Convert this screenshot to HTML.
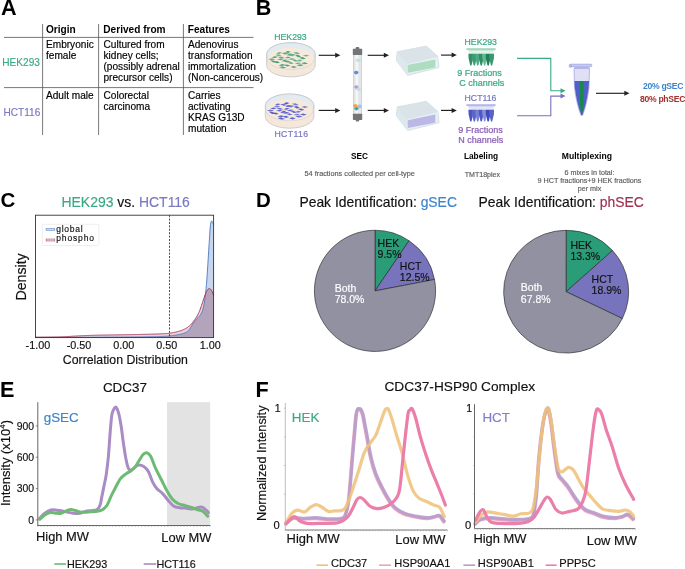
<!DOCTYPE html>
<html><head><meta charset="utf-8"><style>
html,body{margin:0;padding:0;background:#fff;}
body{width:685px;height:569px;overflow:hidden;}
svg{display:block;will-change:transform;}
</style></head><body>
<svg width="685" height="569" viewBox="0 0 685 569" font-family="'Liberation Sans', sans-serif">
<rect width="685" height="569" fill="#fff"/>
<text x="0.9" y="15.2" font-size="21.6" fill="#000" font-weight="bold">A</text>
<g stroke="#555" stroke-width="0.8">
<line x1="42.6" y1="24" x2="42.6" y2="135"/>
<line x1="98.6" y1="24" x2="98.6" y2="135"/>
<line x1="183.4" y1="24" x2="183.4" y2="135"/>
<line x1="4" y1="37.4" x2="253.5" y2="37.4"/>
<line x1="4" y1="87.6" x2="253.5" y2="87.6"/>
</g>
<text x="46" y="33.3" font-size="10.1" fill="#000" font-weight="bold">Origin</text>
<text x="103.3" y="33.3" font-size="10.1" fill="#000" font-weight="bold">Derived from</text>
<text x="187.8" y="33.3" font-size="10.1" fill="#000" font-weight="bold">Features</text>
<text x="2.3" y="66.3" font-size="10.1" fill="#3aa985" stroke="#3aa985" stroke-width="0.16">HEK293</text>
<text x="3.5" y="115.9" font-size="10.1" fill="#7b78c4" stroke="#7b78c4" stroke-width="0.16">HCT116</text>
<text x="46" y="48.1" font-size="10.1" fill="#000" stroke="#000" stroke-width="0.16">Embryonic</text>
<text x="46" y="59.2" font-size="10.1" fill="#000" stroke="#000" stroke-width="0.16">female</text>
<text x="103.5" y="48.1" font-size="10.1" fill="#000" stroke="#000" stroke-width="0.16">Cultured from</text>
<text x="103.5" y="59.2" font-size="10.1" fill="#000" stroke="#000" stroke-width="0.16">kidney cells;</text>
<text x="103.5" y="70.3" font-size="10.1" fill="#000" stroke="#000" stroke-width="0.16">(possibly adrenal</text>
<text x="103.5" y="81.4" font-size="10.1" fill="#000" stroke="#000" stroke-width="0.16">precursor cells)</text>
<text x="188" y="48.1" font-size="10.1" fill="#000" stroke="#000" stroke-width="0.16">Adenovirus</text>
<text x="188" y="59.2" font-size="10.1" fill="#000" stroke="#000" stroke-width="0.16">transformation</text>
<text x="188" y="70.3" font-size="10.1" fill="#000" stroke="#000" stroke-width="0.16">immortalization</text>
<text x="188" y="81.4" font-size="10.1" fill="#000" stroke="#000" stroke-width="0.16">(Non-cancerous)</text>
<text x="46" y="98.8" font-size="10.1" fill="#000" stroke="#000" stroke-width="0.16">Adult male</text>
<text x="103.5" y="98.8" font-size="10.1" fill="#000" stroke="#000" stroke-width="0.16">Colorectal</text>
<text x="103.5" y="109.8" font-size="10.1" fill="#000" stroke="#000" stroke-width="0.16">carcinoma</text>
<text x="188" y="98.8" font-size="10.1" fill="#000" stroke="#000" stroke-width="0.16">Carries</text>
<text x="188" y="109.8" font-size="10.1" fill="#000" stroke="#000" stroke-width="0.16">activating</text>
<text x="188" y="120.8" font-size="10.1" fill="#000" stroke="#000" stroke-width="0.16">KRAS G13D</text>
<text x="188" y="131.8" font-size="10.1" fill="#000" stroke="#000" stroke-width="0.16">mutation</text>
<text x="255.7" y="15.3" font-size="21.6" fill="#000" font-weight="bold">B</text>
<path d="M266.6,54.5 A24.3,11.8 0 0 1 315.2,54.5 L315.2,65.1 A24.3,11.8 0 0 1 266.6,65.1 Z" fill="#f5e8da" stroke="#b8bfc7" stroke-width="0.7"/>
<ellipse cx="290.9" cy="54.5" rx="24.3" ry="11.8" fill="#e3eaf0" stroke="#b9c1ca" stroke-width="0.6"/>
<ellipse cx="290.9" cy="58.6" rx="23.2" ry="10.7" fill="#f8eadb"/>
<path d="M276.1,53.1 L278.9,52.2 L282.1,53.1 L279.3,54 Z" transform="rotate(-10 279.1 53.1)" fill="#3d9d76" opacity="0.84"/>
<path d="M281.5,53.5 L284.8,52.5 L288.5,53.5 L285.2,54.5 Z" transform="rotate(5 285 53.5)" fill="#3d9d76" opacity="0.85"/>
<path d="M285,52 L287.7,51 L290.8,52 L288.1,53 Z" transform="rotate(-5 287.9 52)" fill="#3d9d76" opacity="0.98"/>
<path d="M293.1,53.1 L296.5,52 L300.3,53.1 L296.9,54.2 Z" transform="rotate(10 296.7 53.1)" fill="#3d9d76" opacity="0.73"/>
<path d="M288.7,55 L292.1,53.8 L295.9,55 L292.5,56.2 Z" transform="rotate(-8 292.3 55)" fill="#3d9d76" opacity="0.75"/>
<path d="M302.7,55.7 L305.9,54.8 L309.5,55.7 L306.3,56.6 Z" transform="rotate(0 306.1 55.7)" fill="#3d9d76" opacity="0.74"/>
<path d="M271.6,57.1 L274.6,56.2 L278,57.1 L275,58 Z" transform="rotate(-5 274.8 57.1)" fill="#3d9d76" opacity="0.93"/>
<path d="M277.7,57.5 L281.1,56.5 L284.9,57.5 L281.5,58.5 Z" transform="rotate(8 281.3 57.5)" fill="#3d9d76" opacity="0.80"/>
<path d="M284.9,57.5 L287.7,56.6 L290.9,57.5 L288.1,58.4 Z" transform="rotate(-12 287.9 57.5)" fill="#3d9d76" opacity="0.91"/>
<path d="M288.1,59 L291.3,58.1 L294.9,59 L291.7,59.9 Z" transform="rotate(-6 291.5 59)" fill="#3d9d76" opacity="0.84"/>
<path d="M294.9,56 L297.9,54.8 L301.3,56 L298.3,57.2 Z" transform="rotate(12 298.1 56)" fill="#3d9d76" opacity="0.92"/>
<path d="M299.1,58.2 L302.3,57.1 L305.9,58.2 L302.7,59.3 Z" transform="rotate(8 302.5 58.2)" fill="#3d9d76" opacity="0.98"/>
<path d="M268.1,59.3 L271.6,58.3 L275.5,59.3 L272,60.3 Z" transform="rotate(0 271.8 59.3)" fill="#3d9d76" opacity="0.77"/>
<path d="M277.1,59.3 L280.4,58.4 L284.1,59.3 L280.8,60.2 Z" transform="rotate(-3 280.6 59.3)" fill="#3d9d76" opacity="0.81"/>
<path d="M296.6,60.4 L299.4,59.4 L302.6,60.4 L299.8,61.4 Z" transform="rotate(-4 299.6 60.4)" fill="#3d9d76" opacity="0.72"/>
<path d="M273.9,62.2 L276.8,61.1 L280.1,62.2 L277.2,63.3 Z" transform="rotate(10 277 62.2)" fill="#3d9d76" opacity="0.97"/>
<path d="M283.7,61.5 L287,60.4 L290.7,61.5 L287.4,62.6 Z" transform="rotate(-6 287.2 61.5)" fill="#3d9d76" opacity="0.88"/>
<path d="M287.6,63 L290.6,62 L294,63 L291,64 Z" transform="rotate(6 290.8 63)" fill="#3d9d76" opacity="0.83"/>
<path d="M294.6,63.3 L297.9,62.4 L301.6,63.3 L298.3,64.2 Z" transform="rotate(-8 298.1 63.3)" fill="#3d9d76" opacity="0.71"/>
<path d="M301.2,63.3 L304.5,62.3 L308.2,63.3 L304.9,64.3 Z" transform="rotate(2 304.7 63.3)" fill="#3d9d76" opacity="0.91"/>
<path d="M278.6,65.2 L281.9,64 L285.6,65.2 L282.3,66.4 Z" transform="rotate(-10 282.1 65.2)" fill="#3d9d76" opacity="0.82"/>
<path d="M284,65.5 L287,64.4 L290.4,65.5 L287.4,66.6 Z" transform="rotate(4 287.2 65.5)" fill="#3d9d76" opacity="0.93"/>
<path d="M290.3,67 L293.5,65.9 L297.1,67 L293.9,68.1 Z" transform="rotate(0 293.7 67)" fill="#3d9d76" opacity="0.89"/>
<path d="M279.1,67.4 L282.6,66.4 L286.5,67.4 L283,68.4 Z" transform="rotate(6 282.8 67.4)" fill="#3d9d76" opacity="0.92"/>
<path d="M296.6,65.2 L300.1,64.2 L304,65.2 L300.5,66.2 Z" transform="rotate(-5 300.3 65.2)" fill="#3d9d76" opacity="0.88"/>
<path d="M275.2,55.3 L278.2,54.3 L281.6,55.3 L278.6,56.3 Z" transform="rotate(4 278.4 55.3)" fill="#3d9d76" opacity="0.72"/>
<path d="M286.5,54.6 L289.2,53.5 L292.3,54.6 L289.6,55.7 Z" transform="rotate(-15 289.4 54.6)" fill="#3d9d76" opacity="0.84"/>
<path d="M291.6,60.5 L294.8,59.4 L298.4,60.5 L295.2,61.6 Z" transform="rotate(15 295 60.5)" fill="#3d9d76" opacity="0.83"/>
<path d="M281.3,60.5 L284.3,59.5 L287.7,60.5 L284.7,61.5 Z" transform="rotate(-20 284.5 60.5)" fill="#3d9d76" opacity="0.94"/>
<path d="M269.9,61.5 L273.3,60.4 L277.1,61.5 L273.7,62.6 Z" transform="rotate(15 273.5 61.5)" fill="#3d9d76" opacity="0.96"/>
<path d="M267.3,59 A23.6,10.4 0 0 0 314.5,59" fill="none" stroke="#c9d0d7" stroke-width="0.6"/>
<path d="M265.3,105.8 A24.3,11.8 0 0 1 313.9,105.8 L313.9,116.4 A24.3,11.8 0 0 1 265.3,116.4 Z" fill="#f5e8da" stroke="#b8bfc7" stroke-width="0.7"/>
<ellipse cx="289.6" cy="105.8" rx="24.3" ry="11.8" fill="#e3eaf0" stroke="#b9c1ca" stroke-width="0.6"/>
<ellipse cx="289.6" cy="109.9" rx="23.2" ry="10.7" fill="#f8eadb"/>
<path d="M274.8,104.4 L277.6,103.5 L280.8,104.4 L278,105.3 Z" transform="rotate(-10 277.8 104.4)" fill="#4a56d0" opacity="0.84"/>
<path d="M280.2,104.8 L283.5,103.8 L287.2,104.8 L283.9,105.8 Z" transform="rotate(5 283.7 104.8)" fill="#4a56d0" opacity="0.85"/>
<path d="M283.7,103.3 L286.4,102.3 L289.5,103.3 L286.8,104.3 Z" transform="rotate(-5 286.6 103.3)" fill="#4a56d0" opacity="0.98"/>
<path d="M291.8,104.4 L295.2,103.3 L299,104.4 L295.6,105.5 Z" transform="rotate(10 295.4 104.4)" fill="#4a56d0" opacity="0.73"/>
<path d="M287.4,106.3 L290.8,105.1 L294.6,106.3 L291.2,107.5 Z" transform="rotate(-8 291 106.3)" fill="#4a56d0" opacity="0.75"/>
<path d="M301.4,107 L304.6,106.1 L308.2,107 L305,107.9 Z" transform="rotate(0 304.8 107)" fill="#4a56d0" opacity="0.74"/>
<path d="M270.3,108.4 L273.3,107.5 L276.7,108.4 L273.7,109.3 Z" transform="rotate(-5 273.5 108.4)" fill="#4a56d0" opacity="0.93"/>
<path d="M276.4,108.8 L279.8,107.8 L283.6,108.8 L280.2,109.8 Z" transform="rotate(8 280 108.8)" fill="#4a56d0" opacity="0.80"/>
<path d="M283.6,108.8 L286.4,107.9 L289.6,108.8 L286.8,109.7 Z" transform="rotate(-12 286.6 108.8)" fill="#4a56d0" opacity="0.91"/>
<path d="M286.8,110.3 L290,109.4 L293.6,110.3 L290.4,111.2 Z" transform="rotate(-6 290.2 110.3)" fill="#4a56d0" opacity="0.84"/>
<path d="M293.6,107.3 L296.6,106.1 L300,107.3 L297,108.5 Z" transform="rotate(12 296.8 107.3)" fill="#4a56d0" opacity="0.92"/>
<path d="M297.8,109.5 L301,108.4 L304.6,109.5 L301.4,110.6 Z" transform="rotate(8 301.2 109.5)" fill="#4a56d0" opacity="0.98"/>
<path d="M266.8,110.6 L270.3,109.6 L274.2,110.6 L270.7,111.6 Z" transform="rotate(0 270.5 110.6)" fill="#4a56d0" opacity="0.77"/>
<path d="M275.8,110.6 L279.1,109.7 L282.8,110.6 L279.5,111.5 Z" transform="rotate(-3 279.3 110.6)" fill="#4a56d0" opacity="0.81"/>
<path d="M295.3,111.7 L298.1,110.7 L301.3,111.7 L298.5,112.7 Z" transform="rotate(-4 298.3 111.7)" fill="#4a56d0" opacity="0.72"/>
<path d="M272.6,113.5 L275.5,112.4 L278.8,113.5 L275.9,114.6 Z" transform="rotate(10 275.7 113.5)" fill="#4a56d0" opacity="0.97"/>
<path d="M282.4,112.8 L285.7,111.7 L289.4,112.8 L286.1,113.9 Z" transform="rotate(-6 285.9 112.8)" fill="#4a56d0" opacity="0.88"/>
<path d="M286.3,114.3 L289.3,113.3 L292.7,114.3 L289.7,115.3 Z" transform="rotate(6 289.5 114.3)" fill="#4a56d0" opacity="0.83"/>
<path d="M293.3,114.6 L296.6,113.7 L300.3,114.6 L297,115.5 Z" transform="rotate(-8 296.8 114.6)" fill="#4a56d0" opacity="0.71"/>
<path d="M299.9,114.6 L303.2,113.6 L306.9,114.6 L303.6,115.6 Z" transform="rotate(2 303.4 114.6)" fill="#4a56d0" opacity="0.91"/>
<path d="M277.3,116.5 L280.6,115.3 L284.3,116.5 L281,117.7 Z" transform="rotate(-10 280.8 116.5)" fill="#4a56d0" opacity="0.82"/>
<path d="M282.7,116.8 L285.7,115.7 L289.1,116.8 L286.1,117.9 Z" transform="rotate(4 285.9 116.8)" fill="#4a56d0" opacity="0.93"/>
<path d="M289,118.3 L292.2,117.2 L295.8,118.3 L292.6,119.4 Z" transform="rotate(0 292.4 118.3)" fill="#4a56d0" opacity="0.89"/>
<path d="M277.8,118.7 L281.3,117.7 L285.2,118.7 L281.7,119.7 Z" transform="rotate(6 281.5 118.7)" fill="#4a56d0" opacity="0.92"/>
<path d="M295.3,116.5 L298.8,115.5 L302.7,116.5 L299.2,117.5 Z" transform="rotate(-5 299 116.5)" fill="#4a56d0" opacity="0.88"/>
<path d="M273.9,106.6 L276.9,105.6 L280.3,106.6 L277.3,107.6 Z" transform="rotate(4 277.1 106.6)" fill="#4a56d0" opacity="0.72"/>
<path d="M285.2,105.9 L287.9,104.8 L291,105.9 L288.3,107 Z" transform="rotate(-15 288.1 105.9)" fill="#4a56d0" opacity="0.84"/>
<path d="M290.3,111.8 L293.5,110.7 L297.1,111.8 L293.9,112.9 Z" transform="rotate(15 293.7 111.8)" fill="#4a56d0" opacity="0.83"/>
<path d="M280,111.8 L283,110.8 L286.4,111.8 L283.4,112.8 Z" transform="rotate(-20 283.2 111.8)" fill="#4a56d0" opacity="0.94"/>
<path d="M268.6,112.8 L272,111.7 L275.8,112.8 L272.4,113.9 Z" transform="rotate(15 272.2 112.8)" fill="#4a56d0" opacity="0.96"/>
<path d="M266,110.3 A23.6,10.4 0 0 0 313.2,110.3" fill="none" stroke="#c9d0d7" stroke-width="0.6"/>
<text x="274.3" y="39.7" font-size="8.7" fill="#3aa985" stroke="#3aa985" stroke-width="0.22">HEK293</text>
<text x="274.4" y="137.4" font-size="8.7" fill="#7b78c4" letter-spacing="0.4" stroke="#7b78c4" stroke-width="0.22">HCT116</text>
<line x1="318.7" y1="55.3" x2="335.7" y2="55.3" stroke="#222" stroke-width="1.15"/>
<path d="M340.4,55.3 L335.2,52.8 L335.2,57.8 Z" fill="#222"/>
<line x1="318.7" y1="110.4" x2="335.7" y2="110.4" stroke="#222" stroke-width="1.15"/>
<path d="M340.4,110.4 L335.2,107.9 L335.2,112.9 Z" fill="#222"/>
<line x1="367.7" y1="55.3" x2="384.3" y2="55.3" stroke="#222" stroke-width="1.15"/>
<path d="M389,55.3 L383.8,52.8 L383.8,57.8 Z" fill="#222"/>
<line x1="367.7" y1="110.4" x2="384.3" y2="110.4" stroke="#222" stroke-width="1.15"/>
<path d="M389,110.4 L383.8,107.9 L383.8,112.9 Z" fill="#222"/>
<line x1="441" y1="55.1" x2="452.1" y2="55.1" stroke="#222" stroke-width="1.15"/>
<path d="M456.8,55.1 L451.6,52.6 L451.6,57.6 Z" fill="#222"/>
<line x1="441" y1="110.4" x2="452.1" y2="110.4" stroke="#222" stroke-width="1.15"/>
<path d="M456.8,110.4 L451.6,107.9 L451.6,112.9 Z" fill="#222"/>
<rect x="353.3" y="54" width="8.4" height="60.5" fill="#e4e5e6" stroke="#b4b7ba" stroke-width="0.5"/>
<rect x="355.6" y="55" width="2.6" height="58.5" fill="#f6f6f7"/>
<rect x="355.6" y="47" width="3.7" height="3" rx="1" fill="#747576"/>
<rect x="352.8" y="48.8" width="9.4" height="6.1" rx="0.6" fill="#747576"/>
<rect x="352.9" y="113.7" width="9.3" height="6.2" rx="0.6" fill="#747576"/>
<rect x="355.7" y="118.5" width="3.5" height="3" rx="1" fill="#747576"/>
<ellipse cx="358.4" cy="60.2" rx="2.5" ry="1.8" fill="#bfe3dc"/>
<ellipse cx="356.2" cy="72.6" rx="2.2" ry="1.8" fill="#5b8fd6"/>
<ellipse cx="356.4" cy="87.1" rx="2.2" ry="1.8" fill="#b79be0"/>
<ellipse cx="358.6" cy="89.3" rx="2.3" ry="1.8" fill="#bfe3dc"/>
<ellipse cx="356.4" cy="108.6" rx="2.2" ry="1.8" fill="#4fa3a3"/>
<ellipse cx="355.3" cy="105.7" rx="2.2" ry="1.8" fill="#eea64f"/>
<ellipse cx="359.5" cy="106.4" rx="2.3" ry="1.8" fill="#a3c1ee"/>
<defs><pattern id="wells" x="0" y="0" width="1.9" height="1.9" patternUnits="userSpaceOnUse"><rect width="1.9" height="1.9" fill="#e4ecf0"/><circle cx="0.95" cy="0.95" r="0.65" fill="#c6d5dc"/></pattern></defs>
<polygon points="396.3,60.6 397.1,51.8 426.3,46.1 438,56.5 439,67.6 407.6,75.4" fill="#e4edf1" stroke="#c0d3db" stroke-width="0.55"/>
<polygon points="397.1,52 407.3,63.8 407.3,74 397.2,60.3" fill="#dde8ed"/>
<polygon points="407.3,63.8 437.8,56.7 437.8,67.2 407.3,74" fill="#e7f0f3"/>
<polygon points="407.6,65 435.3,59.4 435.3,67.6 407.8,72.8" fill="#addcbf"/>
<polygon points="397.1,51.9 426.3,46.2 437.8,56.6 407.3,63.8" fill="url(#wells)" stroke="#d3e1e7" stroke-width="0.4"/>
<polygon points="396.3,115.8 397.1,107 426.3,101.3 438,111.7 439,122.8 407.6,130.6" fill="#e4edf1" stroke="#c0d3db" stroke-width="0.55"/>
<polygon points="397.1,107.2 407.3,119 407.3,129.2 397.2,115.5" fill="#dde8ed"/>
<polygon points="407.3,119 437.8,111.9 437.8,122.4 407.3,129.2" fill="#e7f0f3"/>
<polygon points="407.6,120.2 435.3,114.6 435.3,122.8 407.8,128" fill="#bbb7e6"/>
<polygon points="397.1,107.1 426.3,101.4 437.8,111.8 407.3,119" fill="url(#wells)" stroke="#d3e1e7" stroke-width="0.4"/>
<rect x="466.4" y="48.2" width="29.2" height="1.8" fill="#a5d6bf"/>
<rect x="468.8" y="50.8" width="4.1" height="3" fill="#e2f2ea"/>
<path d="M468.4,53.7 L473.3,53.7 L473.2,58.2 L471.6,65 Q470.9,66.4 470.1,65 L468.6,58.2 Z" fill="#2f8f66"/>
<rect x="472.3" y="50.8" width="4.1" height="3" fill="#e2f2ea"/>
<path d="M471.9,53.7 L476.8,53.7 L476.6,58.2 L475.1,65 Q474.3,66.4 473.6,65 L472,58.2 Z" fill="#3d9b73"/>
<rect x="475.7" y="50.8" width="4.1" height="3" fill="#e2f2ea"/>
<path d="M475.3,53.7 L480.2,53.7 L480.1,58.2 L478.5,65 Q477.8,66.4 477,65 L475.5,58.2 Z" fill="#4fa985"/>
<rect x="479.2" y="50.8" width="4.1" height="3" fill="#e2f2ea"/>
<path d="M478.8,53.7 L483.7,53.7 L483.6,58.2 L482,65 Q481.2,66.4 480.5,65 L478.9,58.2 Z" fill="#2f8f66"/>
<rect x="482.6" y="50.8" width="4.1" height="3" fill="#e2f2ea"/>
<path d="M482.2,53.7 L487.1,53.7 L487,58.2 L485.4,65 Q484.7,66.4 483.9,65 L482.4,58.2 Z" fill="#64b892"/>
<rect x="486.1" y="50.8" width="4.1" height="3" fill="#e2f2ea"/>
<path d="M485.7,53.7 L490.6,53.7 L490.4,58.2 L488.9,65 Q488.1,66.4 487.4,65 L485.8,58.2 Z" fill="#1f7f57"/>
<rect x="489.5" y="50.8" width="4.1" height="3" fill="#e2f2ea"/>
<path d="M489.1,53.7 L494,53.7 L493.9,58.2 L492.3,65 Q491.6,66.4 490.8,65 L489.3,58.2 Z" fill="#3a9871"/>
<rect x="468.2" y="50" width="26.4" height="0.9" fill="#a5d6bf" opacity="0.6"/>
<rect x="466.4" y="104.2" width="29.2" height="1.8" fill="#b3b8e8"/>
<rect x="468.8" y="106.8" width="4.1" height="3" fill="#e4e6f7"/>
<path d="M468.4,109.7 L473.3,109.7 L473.2,114.2 L471.6,121 Q470.9,122.4 470.1,121 L468.6,114.2 Z" fill="#4b56c2"/>
<rect x="472.3" y="106.8" width="4.1" height="3" fill="#e4e6f7"/>
<path d="M471.9,109.7 L476.8,109.7 L476.6,114.2 L475.1,121 Q474.3,122.4 473.6,121 L472,114.2 Z" fill="#5a65c9"/>
<rect x="475.7" y="106.8" width="4.1" height="3" fill="#e4e6f7"/>
<path d="M475.3,109.7 L480.2,109.7 L480.1,114.2 L478.5,121 Q477.8,122.4 477,121 L475.5,114.2 Z" fill="#7680d4"/>
<rect x="479.2" y="106.8" width="4.1" height="3" fill="#e4e6f7"/>
<path d="M478.8,109.7 L483.7,109.7 L483.6,114.2 L482,121 Q481.2,122.4 480.5,121 L478.9,114.2 Z" fill="#4e59c4"/>
<rect x="482.6" y="106.8" width="4.1" height="3" fill="#e4e6f7"/>
<path d="M482.2,109.7 L487.1,109.7 L487,114.2 L485.4,121 Q484.7,122.4 483.9,121 L482.4,114.2 Z" fill="#8790da"/>
<rect x="486.1" y="106.8" width="4.1" height="3" fill="#e4e6f7"/>
<path d="M485.7,109.7 L490.6,109.7 L490.4,114.2 L488.9,121 Q488.1,122.4 487.4,121 L485.8,114.2 Z" fill="#3f4bbd"/>
<rect x="489.5" y="106.8" width="4.1" height="3" fill="#e4e6f7"/>
<path d="M489.1,109.7 L494,109.7 L493.9,114.2 L492.3,121 Q491.6,122.4 490.8,121 L489.3,114.2 Z" fill="#5863c8"/>
<rect x="468.2" y="106" width="26.4" height="0.9" fill="#b3b8e8" opacity="0.6"/>
<text x="464.6" y="44.6" font-size="8.7" fill="#3aa985" stroke="#3aa985" stroke-width="0.22">HEK293</text>
<text x="457.3" y="76.4" font-size="9" fill="#3aa985" stroke="#3aa985" stroke-width="0.22">9 Fractions</text>
<text x="459.3" y="85.9" font-size="9" fill="#3aa985" stroke="#3aa985" stroke-width="0.22">C channels</text>
<text x="464.6" y="100.8" font-size="8.7" fill="#7b78c4" stroke="#7b78c4" stroke-width="0.22">HCT116</text>
<text x="458.2" y="132.7" font-size="9" fill="#8a5cb8" stroke="#8a5cb8" stroke-width="0.22">9 Fractions</text>
<text x="458.2" y="142.8" font-size="9" fill="#8a5cb8" stroke="#8a5cb8" stroke-width="0.22">N channels</text>
<path d="M517,58.4 L550.8,58.4 L550.8,90.8 L561,90.8" fill="none" stroke="#3aa985" stroke-width="1.1"/>
<path d="M565.6,90.8 L560.5,88.3 L560.5,93.3 Z" fill="#3aa985"/>
<path d="M517,115.7 L550.8,115.7 L550.8,96.1 L561,96.1" fill="none" stroke="#7670c0" stroke-width="1.1"/>
<path d="M565.6,96.1 L560.5,93.6 L560.5,98.6 Z" fill="#7670c0"/>
<path d="M574,68.5 L589.5,68.5 L589,88 Q587,104 582.6,115.4 L581,115.4 Q576.5,104 574.5,88 Z" fill="#dfe0f5" stroke="#8d90d8" stroke-width="0.6"/>
<path d="M574.4,81 L589.1,81 L588.6,88 Q586.6,103.8 582.4,115 L581.2,115 Q576.9,103.8 574.9,88 Z" fill="#5160c8"/>
<path d="M580,81 L583.6,81 L583.6,104 Q583,111 581.8,115 Q580.6,111 580,104 Z" fill="#178a4b"/>
<rect x="569.3" y="64.1" width="22.6" height="2.6" rx="1.2" fill="#c8cbf0" stroke="#8d90d8" stroke-width="0.5"/>
<circle cx="570.5" cy="66.3" r="1.3" fill="none" stroke="#8d90d8" stroke-width="0.5"/>
<rect x="574.2" y="66.6" width="15.2" height="2" fill="#b3b6ea"/>
<line x1="596" y1="93.3" x2="624.8" y2="93.3" stroke="#222" stroke-width="1.15"/>
<path d="M629.5,93.3 L624.3,90.8 L624.3,95.8 Z" fill="#222"/>
<text x="643" y="88.5" font-size="8.6" fill="#3c84cc" font-weight="bold" letter-spacing="-0.3">20% gSEC</text>
<text x="640" y="101.7" font-size="8.6" fill="#a0302f" font-weight="bold" letter-spacing="-0.3">80% phSEC</text>
<text x="359.5" y="159" font-size="8.3" fill="#000" font-weight="bold" text-anchor="middle">SEC</text>
<text x="481" y="159.4" font-size="8.3" fill="#000" font-weight="bold" text-anchor="middle">Labeling</text>
<text x="586.9" y="159.4" font-size="8.6" fill="#000" font-weight="bold" text-anchor="middle">Multiplexing</text>
<text x="359.7" y="175.5" font-size="7.3" fill="#5c5c5c" text-anchor="middle" stroke="#5c5c5c" stroke-width="0.16">54 fractions collected per cell-type</text>
<text x="482.4" y="176.7" font-size="7.05" fill="#5c5c5c" text-anchor="middle" stroke="#5c5c5c" stroke-width="0.16">TMT18plex</text>
<text x="589.5" y="175.2" font-size="7.2" fill="#5c5c5c" text-anchor="middle" stroke="#5c5c5c" stroke-width="0.16">6 mixes in total:</text>
<text x="589.5" y="183.3" font-size="7.2" fill="#5c5c5c" text-anchor="middle" stroke="#5c5c5c" stroke-width="0.16">9 HCT fractions+9 HEK fractions</text>
<text x="589.5" y="190.8" font-size="7.2" fill="#5c5c5c" text-anchor="middle" stroke="#5c5c5c" stroke-width="0.16">per mix</text>
<text x="0.5" y="206.9" font-size="20.5" fill="#000" font-weight="bold">C</text>
<text x="61.5" y="206.6" font-size="13.95"><tspan fill="#3aa985" stroke="#3aa985" stroke-width="0.16">HEK293</tspan><tspan fill="#111" stroke="#111" stroke-width="0.16"> vs. </tspan><tspan fill="#7b78c4" stroke="#7b78c4" stroke-width="0.16">HCT116</tspan></text>
<path d="M35.5,337.6 L35.50,337.40 L35.95,337.40 L36.39,337.40 L36.84,337.40 L37.29,337.40 L37.73,337.40 L38.18,337.40 L38.62,337.40 L39.07,337.40 L39.52,337.40 L39.96,337.40 L40.41,337.40 L40.86,337.40 L41.30,337.40 L41.75,337.40 L42.20,337.39 L42.64,337.39 L43.09,337.39 L43.53,337.39 L43.98,337.39 L44.43,337.39 L44.87,337.39 L45.32,337.39 L45.77,337.39 L46.21,337.39 L46.66,337.39 L47.11,337.39 L47.55,337.39 L48.00,337.39 L48.44,337.39 L48.89,337.38 L49.34,337.38 L49.78,337.38 L50.23,337.38 L50.68,337.38 L51.12,337.38 L51.57,337.38 L52.02,337.38 L52.46,337.38 L52.91,337.38 L53.35,337.38 L53.80,337.37 L54.25,337.37 L54.69,337.37 L55.14,337.37 L55.59,337.37 L56.03,337.37 L56.48,337.37 L56.93,337.37 L57.37,337.37 L57.82,337.36 L58.26,337.36 L58.71,337.36 L59.16,337.36 L59.60,337.36 L60.05,337.36 L60.50,337.36 L60.94,337.36 L61.39,337.35 L61.84,337.35 L62.28,337.35 L62.73,337.35 L63.17,337.35 L63.62,337.35 L64.07,337.35 L64.51,337.34 L64.96,337.34 L65.41,337.34 L65.85,337.34 L66.30,337.34 L66.75,337.34 L67.19,337.34 L67.64,337.33 L68.08,337.33 L68.53,337.33 L68.98,337.33 L69.42,337.33 L69.87,337.33 L70.32,337.32 L70.76,337.32 L71.21,337.32 L71.66,337.32 L72.10,337.32 L72.55,337.32 L72.99,337.32 L73.44,337.31 L73.89,337.31 L74.33,337.31 L74.78,337.31 L75.23,337.31 L75.67,337.30 L76.12,337.30 L76.57,337.30 L77.01,337.30 L77.46,337.30 L77.90,337.30 L78.35,337.29 L78.80,337.29 L79.24,337.29 L79.69,337.29 L80.14,337.29 L80.58,337.29 L81.03,337.28 L81.48,337.28 L81.92,337.28 L82.37,337.28 L82.81,337.28 L83.26,337.27 L83.71,337.27 L84.15,337.27 L84.60,337.27 L85.05,337.27 L85.49,337.26 L85.94,337.26 L86.39,337.26 L86.83,337.26 L87.28,337.26 L87.72,337.25 L88.17,337.25 L88.62,337.25 L89.06,337.25 L89.51,337.25 L89.96,337.25 L90.40,337.24 L90.85,337.24 L91.30,337.24 L91.74,337.24 L92.19,337.24 L92.63,337.23 L93.08,337.23 L93.53,337.23 L93.97,337.23 L94.42,337.23 L94.87,337.22 L95.31,337.22 L95.76,337.22 L96.21,337.22 L96.65,337.22 L97.10,337.21 L97.54,337.21 L97.99,337.21 L98.44,337.21 L98.88,337.21 L99.33,337.20 L99.78,337.20 L100.22,337.20 L100.67,337.20 L101.12,337.19 L101.56,337.19 L102.01,337.19 L102.45,337.19 L102.90,337.19 L103.35,337.18 L103.79,337.18 L104.24,337.18 L104.69,337.18 L105.13,337.18 L105.58,337.17 L106.03,337.17 L106.47,337.17 L106.92,337.17 L107.36,337.17 L107.81,337.16 L108.26,337.16 L108.70,337.16 L109.15,337.16 L109.60,337.15 L110.04,337.15 L110.49,337.15 L110.94,337.15 L111.38,337.15 L111.83,337.14 L112.27,337.14 L112.72,337.14 L113.17,337.14 L113.61,337.13 L114.06,337.13 L114.51,337.13 L114.95,337.13 L115.40,337.12 L115.85,337.12 L116.29,337.12 L116.74,337.12 L117.18,337.11 L117.63,337.11 L118.08,337.11 L118.52,337.11 L118.97,337.10 L119.42,337.10 L119.86,337.10 L120.31,337.09 L120.76,337.09 L121.20,337.09 L121.65,337.09 L122.09,337.08 L122.54,337.08 L122.99,337.08 L123.43,337.07 L123.88,337.07 L124.33,337.07 L124.77,337.06 L125.22,337.06 L125.67,337.06 L126.11,337.05 L126.56,337.05 L127.01,337.05 L127.45,337.04 L127.90,337.04 L128.34,337.04 L128.79,337.03 L129.24,337.03 L129.68,337.03 L130.13,337.02 L130.58,337.02 L131.02,337.01 L131.47,337.01 L131.92,337.01 L132.36,337.00 L132.81,337.00 L133.25,336.99 L133.70,336.99 L134.15,336.99 L134.59,336.98 L135.04,336.98 L135.49,336.97 L135.93,336.97 L136.38,336.97 L136.83,336.96 L137.27,336.96 L137.72,336.95 L138.16,336.95 L138.61,336.94 L139.06,336.94 L139.50,336.93 L139.95,336.93 L140.40,336.92 L140.84,336.92 L141.29,336.91 L141.74,336.91 L142.18,336.90 L142.63,336.90 L143.07,336.89 L143.52,336.89 L143.97,336.88 L144.41,336.88 L144.86,336.87 L145.31,336.86 L145.75,336.86 L146.20,336.85 L146.65,336.85 L147.09,336.84 L147.54,336.83 L147.98,336.83 L148.43,336.82 L148.88,336.82 L149.32,336.81 L149.77,336.80 L150.22,336.80 L150.66,336.79 L151.11,336.78 L151.56,336.77 L152.00,336.77 L152.45,336.76 L152.89,336.75 L153.34,336.74 L153.79,336.73 L154.23,336.72 L154.68,336.71 L155.13,336.69 L155.57,336.68 L156.02,336.67 L156.47,336.66 L156.91,336.64 L157.36,336.63 L157.80,336.61 L158.25,336.60 L158.70,336.58 L159.14,336.56 L159.59,336.55 L160.04,336.53 L160.48,336.51 L160.93,336.49 L161.38,336.47 L161.82,336.45 L162.27,336.43 L162.71,336.41 L163.16,336.39 L163.61,336.37 L164.05,336.35 L164.50,336.33 L164.95,336.30 L165.39,336.28 L165.84,336.25 L166.29,336.22 L166.73,336.19 L167.18,336.15 L167.62,336.11 L168.07,336.07 L168.52,336.02 L168.96,335.98 L169.41,335.93 L169.86,335.88 L170.30,335.83 L170.75,335.78 L171.20,335.72 L171.64,335.66 L172.09,335.60 L172.53,335.55 L172.98,335.48 L173.43,335.42 L173.87,335.36 L174.32,335.30 L174.77,335.23 L175.21,335.17 L175.66,335.10 L176.11,335.03 L176.55,334.96 L177.00,334.89 L177.44,334.81 L177.89,334.73 L178.34,334.64 L178.78,334.56 L179.23,334.46 L179.68,334.37 L180.12,334.27 L180.57,334.16 L181.02,334.06 L181.46,333.94 L181.91,333.82 L182.35,333.70 L182.80,333.57 L183.25,333.44 L183.69,333.30 L184.14,333.14 L184.59,332.98 L185.03,332.80 L185.48,332.60 L185.93,332.39 L186.37,332.16 L186.82,331.91 L187.26,331.62 L187.71,331.25 L188.16,330.80 L188.60,330.30 L189.05,329.75 L189.50,329.17 L189.94,328.58 L190.39,327.94 L190.84,327.23 L191.28,326.45 L191.73,325.65 L192.17,324.85 L192.62,324.09 L193.07,323.40 L193.51,322.75 L193.96,322.11 L194.41,321.50 L194.85,320.91 L195.30,320.34 L195.75,319.80 L196.19,319.29 L196.64,318.82 L197.08,318.40 L197.53,317.98 L197.98,317.57 L198.42,317.13 L198.87,316.65 L199.32,316.13 L199.76,315.60 L200.21,315.04 L200.66,314.42 L201.10,313.72 L201.55,312.91 L201.99,311.91 L202.44,310.71 L202.89,309.29 L203.33,307.66 L203.78,305.73 L204.23,303.25 L204.67,300.33 L205.12,297.11 L205.57,293.44 L206.01,289.23 L206.46,284.47 L206.90,278.82 L207.35,272.17 L207.80,265.15 L208.24,258.16 L208.69,250.77 L209.14,243.47 L209.58,236.81 L210.03,230.07 L210.48,224.83 L210.92,222.44 L211.37,221.09 L211.81,221.13 L212.26,221.62 L212.71,222.33 L213.15,223.49 L213.60,225.00 L213.6,337.6 Z" fill="#c7d6ec"/>
<path d="M35.5,337.6 L35.50,337.20 L35.95,337.20 L36.39,337.20 L36.84,337.20 L37.29,337.20 L37.73,337.20 L38.18,337.20 L38.62,337.19 L39.07,337.19 L39.52,337.19 L39.96,337.19 L40.41,337.18 L40.86,337.18 L41.30,337.18 L41.75,337.18 L42.20,337.17 L42.64,337.17 L43.09,337.16 L43.53,337.16 L43.98,337.16 L44.43,337.15 L44.87,337.15 L45.32,337.14 L45.77,337.14 L46.21,337.13 L46.66,337.13 L47.11,337.12 L47.55,337.12 L48.00,337.11 L48.44,337.10 L48.89,337.10 L49.34,337.09 L49.78,337.08 L50.23,337.08 L50.68,337.07 L51.12,337.06 L51.57,337.06 L52.02,337.05 L52.46,337.04 L52.91,337.03 L53.35,337.03 L53.80,337.02 L54.25,337.01 L54.69,337.00 L55.14,336.99 L55.59,336.99 L56.03,336.98 L56.48,336.97 L56.93,336.96 L57.37,336.95 L57.82,336.94 L58.26,336.93 L58.71,336.93 L59.16,336.92 L59.60,336.91 L60.05,336.90 L60.50,336.89 L60.94,336.88 L61.39,336.86 L61.84,336.85 L62.28,336.83 L62.73,336.82 L63.17,336.80 L63.62,336.78 L64.07,336.76 L64.51,336.74 L64.96,336.71 L65.41,336.69 L65.85,336.66 L66.30,336.64 L66.75,336.61 L67.19,336.59 L67.64,336.56 L68.08,336.53 L68.53,336.50 L68.98,336.47 L69.42,336.44 L69.87,336.41 L70.32,336.38 L70.76,336.35 L71.21,336.32 L71.66,336.29 L72.10,336.26 L72.55,336.23 L72.99,336.20 L73.44,336.17 L73.89,336.14 L74.33,336.12 L74.78,336.09 L75.23,336.06 L75.67,336.03 L76.12,336.00 L76.57,335.98 L77.01,335.95 L77.46,335.93 L77.90,335.90 L78.35,335.88 L78.80,335.86 L79.24,335.83 L79.69,335.81 L80.14,335.79 L80.58,335.78 L81.03,335.76 L81.48,335.74 L81.92,335.72 L82.37,335.70 L82.81,335.68 L83.26,335.66 L83.71,335.64 L84.15,335.63 L84.60,335.61 L85.05,335.59 L85.49,335.57 L85.94,335.56 L86.39,335.54 L86.83,335.52 L87.28,335.50 L87.72,335.49 L88.17,335.47 L88.62,335.46 L89.06,335.44 L89.51,335.42 L89.96,335.41 L90.40,335.39 L90.85,335.38 L91.30,335.36 L91.74,335.35 L92.19,335.33 L92.63,335.32 L93.08,335.31 L93.53,335.29 L93.97,335.28 L94.42,335.27 L94.87,335.25 L95.31,335.24 L95.76,335.23 L96.21,335.22 L96.65,335.21 L97.10,335.20 L97.54,335.19 L97.99,335.18 L98.44,335.17 L98.88,335.16 L99.33,335.15 L99.78,335.14 L100.22,335.13 L100.67,335.12 L101.12,335.11 L101.56,335.10 L102.01,335.09 L102.45,335.09 L102.90,335.08 L103.35,335.07 L103.79,335.06 L104.24,335.05 L104.69,335.05 L105.13,335.04 L105.58,335.03 L106.03,335.02 L106.47,335.02 L106.92,335.01 L107.36,335.00 L107.81,335.00 L108.26,334.99 L108.70,334.98 L109.15,334.98 L109.60,334.97 L110.04,334.96 L110.49,334.95 L110.94,334.95 L111.38,334.94 L111.83,334.93 L112.27,334.93 L112.72,334.92 L113.17,334.91 L113.61,334.91 L114.06,334.90 L114.51,334.89 L114.95,334.89 L115.40,334.88 L115.85,334.87 L116.29,334.86 L116.74,334.86 L117.18,334.85 L117.63,334.84 L118.08,334.83 L118.52,334.83 L118.97,334.82 L119.42,334.81 L119.86,334.80 L120.31,334.79 L120.76,334.79 L121.20,334.78 L121.65,334.77 L122.09,334.76 L122.54,334.75 L122.99,334.75 L123.43,334.74 L123.88,334.73 L124.33,334.72 L124.77,334.71 L125.22,334.71 L125.67,334.70 L126.11,334.69 L126.56,334.68 L127.01,334.68 L127.45,334.67 L127.90,334.66 L128.34,334.65 L128.79,334.64 L129.24,334.64 L129.68,334.63 L130.13,334.62 L130.58,334.61 L131.02,334.61 L131.47,334.60 L131.92,334.59 L132.36,334.58 L132.81,334.57 L133.25,334.57 L133.70,334.56 L134.15,334.55 L134.59,334.54 L135.04,334.53 L135.49,334.53 L135.93,334.52 L136.38,334.51 L136.83,334.50 L137.27,334.49 L137.72,334.48 L138.16,334.47 L138.61,334.47 L139.06,334.46 L139.50,334.45 L139.95,334.44 L140.40,334.43 L140.84,334.42 L141.29,334.41 L141.74,334.40 L142.18,334.39 L142.63,334.38 L143.07,334.37 L143.52,334.36 L143.97,334.35 L144.41,334.34 L144.86,334.33 L145.31,334.32 L145.75,334.31 L146.20,334.30 L146.65,334.29 L147.09,334.28 L147.54,334.27 L147.98,334.25 L148.43,334.24 L148.88,334.23 L149.32,334.22 L149.77,334.21 L150.22,334.19 L150.66,334.18 L151.11,334.17 L151.56,334.16 L152.00,334.14 L152.45,334.13 L152.89,334.12 L153.34,334.10 L153.79,334.09 L154.23,334.08 L154.68,334.06 L155.13,334.05 L155.57,334.03 L156.02,334.02 L156.47,334.00 L156.91,333.99 L157.36,333.97 L157.80,333.95 L158.25,333.94 L158.70,333.92 L159.14,333.90 L159.59,333.88 L160.04,333.86 L160.48,333.84 L160.93,333.82 L161.38,333.80 L161.82,333.78 L162.27,333.76 L162.71,333.73 L163.16,333.71 L163.61,333.68 L164.05,333.66 L164.50,333.63 L164.95,333.60 L165.39,333.57 L165.84,333.54 L166.29,333.50 L166.73,333.46 L167.18,333.42 L167.62,333.38 L168.07,333.33 L168.52,333.27 L168.96,333.22 L169.41,333.16 L169.86,333.11 L170.30,333.05 L170.75,332.98 L171.20,332.92 L171.64,332.85 L172.09,332.79 L172.53,332.72 L172.98,332.64 L173.43,332.56 L173.87,332.47 L174.32,332.38 L174.77,332.29 L175.21,332.19 L175.66,332.09 L176.11,331.98 L176.55,331.87 L177.00,331.76 L177.44,331.65 L177.89,331.53 L178.34,331.41 L178.78,331.28 L179.23,331.15 L179.68,331.02 L180.12,330.88 L180.57,330.74 L181.02,330.59 L181.46,330.43 L181.91,330.27 L182.35,330.10 L182.80,329.92 L183.25,329.73 L183.69,329.54 L184.14,329.34 L184.59,329.12 L185.03,328.89 L185.48,328.64 L185.93,328.38 L186.37,328.10 L186.82,327.81 L187.26,327.50 L187.71,327.19 L188.16,326.86 L188.60,326.51 L189.05,326.16 L189.50,325.78 L189.94,325.37 L190.39,324.94 L190.84,324.48 L191.28,324.00 L191.73,323.50 L192.17,322.99 L192.62,322.46 L193.07,321.92 L193.51,321.36 L193.96,320.78 L194.41,320.18 L194.85,319.55 L195.30,318.90 L195.75,318.22 L196.19,317.51 L196.64,316.77 L197.08,315.99 L197.53,315.16 L197.98,314.30 L198.42,313.39 L198.87,312.43 L199.32,311.43 L199.76,310.36 L200.21,309.19 L200.66,307.94 L201.10,306.64 L201.55,305.32 L201.99,304.02 L202.44,302.69 L202.89,301.32 L203.33,299.94 L203.78,298.57 L204.23,297.26 L204.67,296.03 L205.12,294.79 L205.57,293.59 L206.01,292.50 L206.46,291.58 L206.90,290.78 L207.35,290.04 L207.80,289.42 L208.24,289.03 L208.69,288.82 L209.14,288.66 L209.58,288.60 L210.03,288.73 L210.48,289.07 L210.92,289.52 L211.37,290.10 L211.81,290.95 L212.26,291.91 L212.71,292.96 L213.15,294.17 L213.60,295.50 L213.6,337.6 Z" fill="#ebd0d8"/>
<path d="M35.5,337.6 L35.50,337.40 L35.95,337.40 L36.39,337.40 L36.84,337.40 L37.29,337.40 L37.73,337.40 L38.18,337.40 L38.62,337.40 L39.07,337.40 L39.52,337.40 L39.96,337.40 L40.41,337.40 L40.86,337.40 L41.30,337.40 L41.75,337.40 L42.20,337.39 L42.64,337.39 L43.09,337.39 L43.53,337.39 L43.98,337.39 L44.43,337.39 L44.87,337.39 L45.32,337.39 L45.77,337.39 L46.21,337.39 L46.66,337.39 L47.11,337.39 L47.55,337.39 L48.00,337.39 L48.44,337.39 L48.89,337.38 L49.34,337.38 L49.78,337.38 L50.23,337.38 L50.68,337.38 L51.12,337.38 L51.57,337.38 L52.02,337.38 L52.46,337.38 L52.91,337.38 L53.35,337.38 L53.80,337.37 L54.25,337.37 L54.69,337.37 L55.14,337.37 L55.59,337.37 L56.03,337.37 L56.48,337.37 L56.93,337.37 L57.37,337.37 L57.82,337.36 L58.26,337.36 L58.71,337.36 L59.16,337.36 L59.60,337.36 L60.05,337.36 L60.50,337.36 L60.94,337.36 L61.39,337.35 L61.84,337.35 L62.28,337.35 L62.73,337.35 L63.17,337.35 L63.62,337.35 L64.07,337.35 L64.51,337.34 L64.96,337.34 L65.41,337.34 L65.85,337.34 L66.30,337.34 L66.75,337.34 L67.19,337.34 L67.64,337.33 L68.08,337.33 L68.53,337.33 L68.98,337.33 L69.42,337.33 L69.87,337.33 L70.32,337.32 L70.76,337.32 L71.21,337.32 L71.66,337.32 L72.10,337.32 L72.55,337.32 L72.99,337.32 L73.44,337.31 L73.89,337.31 L74.33,337.31 L74.78,337.31 L75.23,337.31 L75.67,337.30 L76.12,337.30 L76.57,337.30 L77.01,337.30 L77.46,337.30 L77.90,337.30 L78.35,337.29 L78.80,337.29 L79.24,337.29 L79.69,337.29 L80.14,337.29 L80.58,337.29 L81.03,337.28 L81.48,337.28 L81.92,337.28 L82.37,337.28 L82.81,337.28 L83.26,337.27 L83.71,337.27 L84.15,337.27 L84.60,337.27 L85.05,337.27 L85.49,337.26 L85.94,337.26 L86.39,337.26 L86.83,337.26 L87.28,337.26 L87.72,337.25 L88.17,337.25 L88.62,337.25 L89.06,337.25 L89.51,337.25 L89.96,337.25 L90.40,337.24 L90.85,337.24 L91.30,337.24 L91.74,337.24 L92.19,337.24 L92.63,337.23 L93.08,337.23 L93.53,337.23 L93.97,337.23 L94.42,337.23 L94.87,337.22 L95.31,337.22 L95.76,337.22 L96.21,337.22 L96.65,337.22 L97.10,337.21 L97.54,337.21 L97.99,337.21 L98.44,337.21 L98.88,337.21 L99.33,337.20 L99.78,337.20 L100.22,337.20 L100.67,337.20 L101.12,337.19 L101.56,337.19 L102.01,337.19 L102.45,337.19 L102.90,337.19 L103.35,337.18 L103.79,337.18 L104.24,337.18 L104.69,337.18 L105.13,337.18 L105.58,337.17 L106.03,337.17 L106.47,337.17 L106.92,337.17 L107.36,337.17 L107.81,337.16 L108.26,337.16 L108.70,337.16 L109.15,337.16 L109.60,337.15 L110.04,337.15 L110.49,337.15 L110.94,337.15 L111.38,337.15 L111.83,337.14 L112.27,337.14 L112.72,337.14 L113.17,337.14 L113.61,337.13 L114.06,337.13 L114.51,337.13 L114.95,337.13 L115.40,337.12 L115.85,337.12 L116.29,337.12 L116.74,337.12 L117.18,337.11 L117.63,337.11 L118.08,337.11 L118.52,337.11 L118.97,337.10 L119.42,337.10 L119.86,337.10 L120.31,337.09 L120.76,337.09 L121.20,337.09 L121.65,337.09 L122.09,337.08 L122.54,337.08 L122.99,337.08 L123.43,337.07 L123.88,337.07 L124.33,337.07 L124.77,337.06 L125.22,337.06 L125.67,337.06 L126.11,337.05 L126.56,337.05 L127.01,337.05 L127.45,337.04 L127.90,337.04 L128.34,337.04 L128.79,337.03 L129.24,337.03 L129.68,337.03 L130.13,337.02 L130.58,337.02 L131.02,337.01 L131.47,337.01 L131.92,337.01 L132.36,337.00 L132.81,337.00 L133.25,336.99 L133.70,336.99 L134.15,336.99 L134.59,336.98 L135.04,336.98 L135.49,336.97 L135.93,336.97 L136.38,336.97 L136.83,336.96 L137.27,336.96 L137.72,336.95 L138.16,336.95 L138.61,336.94 L139.06,336.94 L139.50,336.93 L139.95,336.93 L140.40,336.92 L140.84,336.92 L141.29,336.91 L141.74,336.91 L142.18,336.90 L142.63,336.90 L143.07,336.89 L143.52,336.89 L143.97,336.88 L144.41,336.88 L144.86,336.87 L145.31,336.86 L145.75,336.86 L146.20,336.85 L146.65,336.85 L147.09,336.84 L147.54,336.83 L147.98,336.83 L148.43,336.82 L148.88,336.82 L149.32,336.81 L149.77,336.80 L150.22,336.80 L150.66,336.79 L151.11,336.78 L151.56,336.77 L152.00,336.77 L152.45,336.76 L152.89,336.75 L153.34,336.74 L153.79,336.73 L154.23,336.72 L154.68,336.71 L155.13,336.69 L155.57,336.68 L156.02,336.67 L156.47,336.66 L156.91,336.64 L157.36,336.63 L157.80,336.61 L158.25,336.60 L158.70,336.58 L159.14,336.56 L159.59,336.55 L160.04,336.53 L160.48,336.51 L160.93,336.49 L161.38,336.47 L161.82,336.45 L162.27,336.43 L162.71,336.41 L163.16,336.39 L163.61,336.37 L164.05,336.35 L164.50,336.33 L164.95,336.30 L165.39,336.28 L165.84,336.25 L166.29,336.22 L166.73,336.19 L167.18,336.15 L167.62,336.11 L168.07,336.07 L168.52,336.02 L168.96,335.98 L169.41,335.93 L169.86,335.88 L170.30,335.83 L170.75,335.78 L171.20,335.72 L171.64,335.66 L172.09,335.60 L172.53,335.55 L172.98,335.48 L173.43,335.42 L173.87,335.36 L174.32,335.30 L174.77,335.23 L175.21,335.17 L175.66,335.10 L176.11,335.03 L176.55,334.96 L177.00,334.89 L177.44,334.81 L177.89,334.73 L178.34,334.64 L178.78,334.56 L179.23,334.46 L179.68,334.37 L180.12,334.27 L180.57,334.16 L181.02,334.06 L181.46,333.94 L181.91,333.82 L182.35,333.70 L182.80,333.57 L183.25,333.44 L183.69,333.30 L184.14,333.14 L184.59,332.98 L185.03,332.80 L185.48,332.60 L185.93,332.39 L186.37,332.16 L186.82,331.91 L187.26,331.62 L187.71,331.25 L188.16,330.80 L188.60,330.30 L189.05,329.75 L189.50,329.17 L189.94,328.58 L190.39,327.94 L190.84,327.23 L191.28,326.45 L191.73,325.65 L192.17,324.85 L192.62,324.09 L193.07,323.40 L193.51,322.75 L193.96,322.11 L194.41,321.50 L194.85,320.91 L195.30,320.34 L195.75,319.80 L196.19,319.29 L196.64,318.82 L197.08,318.40 L197.53,317.98 L197.98,317.57 L198.42,317.13 L198.87,316.65 L199.32,316.13 L199.76,315.60 L200.21,315.04 L200.66,314.42 L201.10,313.72 L201.55,312.91 L201.99,311.91 L202.44,310.71 L202.89,309.29 L203.33,307.66 L203.78,305.73 L204.23,303.25 L204.67,300.33 L205.12,297.11 L205.57,293.59 L206.01,292.50 L206.46,291.58 L206.90,290.78 L207.35,290.04 L207.80,289.42 L208.24,289.03 L208.69,288.82 L209.14,288.66 L209.58,288.60 L210.03,288.73 L210.48,289.07 L210.92,289.52 L211.37,290.10 L211.81,290.95 L212.26,291.91 L212.71,292.96 L213.15,294.17 L213.60,295.50 L213.6,337.6 Z" fill="#b3a3bb"/>
<path d="M35.50,337.40 L35.95,337.40 L36.39,337.40 L36.84,337.40 L37.29,337.40 L37.73,337.40 L38.18,337.40 L38.62,337.40 L39.07,337.40 L39.52,337.40 L39.96,337.40 L40.41,337.40 L40.86,337.40 L41.30,337.40 L41.75,337.40 L42.20,337.39 L42.64,337.39 L43.09,337.39 L43.53,337.39 L43.98,337.39 L44.43,337.39 L44.87,337.39 L45.32,337.39 L45.77,337.39 L46.21,337.39 L46.66,337.39 L47.11,337.39 L47.55,337.39 L48.00,337.39 L48.44,337.39 L48.89,337.38 L49.34,337.38 L49.78,337.38 L50.23,337.38 L50.68,337.38 L51.12,337.38 L51.57,337.38 L52.02,337.38 L52.46,337.38 L52.91,337.38 L53.35,337.38 L53.80,337.37 L54.25,337.37 L54.69,337.37 L55.14,337.37 L55.59,337.37 L56.03,337.37 L56.48,337.37 L56.93,337.37 L57.37,337.37 L57.82,337.36 L58.26,337.36 L58.71,337.36 L59.16,337.36 L59.60,337.36 L60.05,337.36 L60.50,337.36 L60.94,337.36 L61.39,337.35 L61.84,337.35 L62.28,337.35 L62.73,337.35 L63.17,337.35 L63.62,337.35 L64.07,337.35 L64.51,337.34 L64.96,337.34 L65.41,337.34 L65.85,337.34 L66.30,337.34 L66.75,337.34 L67.19,337.34 L67.64,337.33 L68.08,337.33 L68.53,337.33 L68.98,337.33 L69.42,337.33 L69.87,337.33 L70.32,337.32 L70.76,337.32 L71.21,337.32 L71.66,337.32 L72.10,337.32 L72.55,337.32 L72.99,337.32 L73.44,337.31 L73.89,337.31 L74.33,337.31 L74.78,337.31 L75.23,337.31 L75.67,337.30 L76.12,337.30 L76.57,337.30 L77.01,337.30 L77.46,337.30 L77.90,337.30 L78.35,337.29 L78.80,337.29 L79.24,337.29 L79.69,337.29 L80.14,337.29 L80.58,337.29 L81.03,337.28 L81.48,337.28 L81.92,337.28 L82.37,337.28 L82.81,337.28 L83.26,337.27 L83.71,337.27 L84.15,337.27 L84.60,337.27 L85.05,337.27 L85.49,337.26 L85.94,337.26 L86.39,337.26 L86.83,337.26 L87.28,337.26 L87.72,337.25 L88.17,337.25 L88.62,337.25 L89.06,337.25 L89.51,337.25 L89.96,337.25 L90.40,337.24 L90.85,337.24 L91.30,337.24 L91.74,337.24 L92.19,337.24 L92.63,337.23 L93.08,337.23 L93.53,337.23 L93.97,337.23 L94.42,337.23 L94.87,337.22 L95.31,337.22 L95.76,337.22 L96.21,337.22 L96.65,337.22 L97.10,337.21 L97.54,337.21 L97.99,337.21 L98.44,337.21 L98.88,337.21 L99.33,337.20 L99.78,337.20 L100.22,337.20 L100.67,337.20 L101.12,337.19 L101.56,337.19 L102.01,337.19 L102.45,337.19 L102.90,337.19 L103.35,337.18 L103.79,337.18 L104.24,337.18 L104.69,337.18 L105.13,337.18 L105.58,337.17 L106.03,337.17 L106.47,337.17 L106.92,337.17 L107.36,337.17 L107.81,337.16 L108.26,337.16 L108.70,337.16 L109.15,337.16 L109.60,337.15 L110.04,337.15 L110.49,337.15 L110.94,337.15 L111.38,337.15 L111.83,337.14 L112.27,337.14 L112.72,337.14 L113.17,337.14 L113.61,337.13 L114.06,337.13 L114.51,337.13 L114.95,337.13 L115.40,337.12 L115.85,337.12 L116.29,337.12 L116.74,337.12 L117.18,337.11 L117.63,337.11 L118.08,337.11 L118.52,337.11 L118.97,337.10 L119.42,337.10 L119.86,337.10 L120.31,337.09 L120.76,337.09 L121.20,337.09 L121.65,337.09 L122.09,337.08 L122.54,337.08 L122.99,337.08 L123.43,337.07 L123.88,337.07 L124.33,337.07 L124.77,337.06 L125.22,337.06 L125.67,337.06 L126.11,337.05 L126.56,337.05 L127.01,337.05 L127.45,337.04 L127.90,337.04 L128.34,337.04 L128.79,337.03 L129.24,337.03 L129.68,337.03 L130.13,337.02 L130.58,337.02 L131.02,337.01 L131.47,337.01 L131.92,337.01 L132.36,337.00 L132.81,337.00 L133.25,336.99 L133.70,336.99 L134.15,336.99 L134.59,336.98 L135.04,336.98 L135.49,336.97 L135.93,336.97 L136.38,336.97 L136.83,336.96 L137.27,336.96 L137.72,336.95 L138.16,336.95 L138.61,336.94 L139.06,336.94 L139.50,336.93 L139.95,336.93 L140.40,336.92 L140.84,336.92 L141.29,336.91 L141.74,336.91 L142.18,336.90 L142.63,336.90 L143.07,336.89 L143.52,336.89 L143.97,336.88 L144.41,336.88 L144.86,336.87 L145.31,336.86 L145.75,336.86 L146.20,336.85 L146.65,336.85 L147.09,336.84 L147.54,336.83 L147.98,336.83 L148.43,336.82 L148.88,336.82 L149.32,336.81 L149.77,336.80 L150.22,336.80 L150.66,336.79 L151.11,336.78 L151.56,336.77 L152.00,336.77 L152.45,336.76 L152.89,336.75 L153.34,336.74 L153.79,336.73 L154.23,336.72 L154.68,336.71 L155.13,336.69 L155.57,336.68 L156.02,336.67 L156.47,336.66 L156.91,336.64 L157.36,336.63 L157.80,336.61 L158.25,336.60 L158.70,336.58 L159.14,336.56 L159.59,336.55 L160.04,336.53 L160.48,336.51 L160.93,336.49 L161.38,336.47 L161.82,336.45 L162.27,336.43 L162.71,336.41 L163.16,336.39 L163.61,336.37 L164.05,336.35 L164.50,336.33 L164.95,336.30 L165.39,336.28 L165.84,336.25 L166.29,336.22 L166.73,336.19 L167.18,336.15 L167.62,336.11 L168.07,336.07 L168.52,336.02 L168.96,335.98 L169.41,335.93 L169.86,335.88 L170.30,335.83 L170.75,335.78 L171.20,335.72 L171.64,335.66 L172.09,335.60 L172.53,335.55 L172.98,335.48 L173.43,335.42 L173.87,335.36 L174.32,335.30 L174.77,335.23 L175.21,335.17 L175.66,335.10 L176.11,335.03 L176.55,334.96 L177.00,334.89 L177.44,334.81 L177.89,334.73 L178.34,334.64 L178.78,334.56 L179.23,334.46 L179.68,334.37 L180.12,334.27 L180.57,334.16 L181.02,334.06 L181.46,333.94 L181.91,333.82 L182.35,333.70 L182.80,333.57 L183.25,333.44 L183.69,333.30 L184.14,333.14 L184.59,332.98 L185.03,332.80 L185.48,332.60 L185.93,332.39 L186.37,332.16 L186.82,331.91 L187.26,331.62 L187.71,331.25 L188.16,330.80 L188.60,330.30 L189.05,329.75 L189.50,329.17 L189.94,328.58 L190.39,327.94 L190.84,327.23 L191.28,326.45 L191.73,325.65 L192.17,324.85 L192.62,324.09 L193.07,323.40 L193.51,322.75 L193.96,322.11 L194.41,321.50 L194.85,320.91 L195.30,320.34 L195.75,319.80 L196.19,319.29 L196.64,318.82 L197.08,318.40 L197.53,317.98 L197.98,317.57 L198.42,317.13 L198.87,316.65 L199.32,316.13 L199.76,315.60 L200.21,315.04 L200.66,314.42 L201.10,313.72 L201.55,312.91 L201.99,311.91 L202.44,310.71 L202.89,309.29 L203.33,307.66 L203.78,305.73 L204.23,303.25 L204.67,300.33 L205.12,297.11 L205.57,293.44 L206.01,289.23 L206.46,284.47 L206.90,278.82 L207.35,272.17 L207.80,265.15 L208.24,258.16 L208.69,250.77 L209.14,243.47 L209.58,236.81 L210.03,230.07 L210.48,224.83 L210.92,222.44 L211.37,221.09 L211.81,221.13 L212.26,221.62 L212.71,222.33 L213.15,223.49 L213.60,225.00" fill="none" stroke="#4c78c0" stroke-width="0.9"/>
<path d="M35.50,337.20 L35.95,337.20 L36.39,337.20 L36.84,337.20 L37.29,337.20 L37.73,337.20 L38.18,337.20 L38.62,337.19 L39.07,337.19 L39.52,337.19 L39.96,337.19 L40.41,337.18 L40.86,337.18 L41.30,337.18 L41.75,337.18 L42.20,337.17 L42.64,337.17 L43.09,337.16 L43.53,337.16 L43.98,337.16 L44.43,337.15 L44.87,337.15 L45.32,337.14 L45.77,337.14 L46.21,337.13 L46.66,337.13 L47.11,337.12 L47.55,337.12 L48.00,337.11 L48.44,337.10 L48.89,337.10 L49.34,337.09 L49.78,337.08 L50.23,337.08 L50.68,337.07 L51.12,337.06 L51.57,337.06 L52.02,337.05 L52.46,337.04 L52.91,337.03 L53.35,337.03 L53.80,337.02 L54.25,337.01 L54.69,337.00 L55.14,336.99 L55.59,336.99 L56.03,336.98 L56.48,336.97 L56.93,336.96 L57.37,336.95 L57.82,336.94 L58.26,336.93 L58.71,336.93 L59.16,336.92 L59.60,336.91 L60.05,336.90 L60.50,336.89 L60.94,336.88 L61.39,336.86 L61.84,336.85 L62.28,336.83 L62.73,336.82 L63.17,336.80 L63.62,336.78 L64.07,336.76 L64.51,336.74 L64.96,336.71 L65.41,336.69 L65.85,336.66 L66.30,336.64 L66.75,336.61 L67.19,336.59 L67.64,336.56 L68.08,336.53 L68.53,336.50 L68.98,336.47 L69.42,336.44 L69.87,336.41 L70.32,336.38 L70.76,336.35 L71.21,336.32 L71.66,336.29 L72.10,336.26 L72.55,336.23 L72.99,336.20 L73.44,336.17 L73.89,336.14 L74.33,336.12 L74.78,336.09 L75.23,336.06 L75.67,336.03 L76.12,336.00 L76.57,335.98 L77.01,335.95 L77.46,335.93 L77.90,335.90 L78.35,335.88 L78.80,335.86 L79.24,335.83 L79.69,335.81 L80.14,335.79 L80.58,335.78 L81.03,335.76 L81.48,335.74 L81.92,335.72 L82.37,335.70 L82.81,335.68 L83.26,335.66 L83.71,335.64 L84.15,335.63 L84.60,335.61 L85.05,335.59 L85.49,335.57 L85.94,335.56 L86.39,335.54 L86.83,335.52 L87.28,335.50 L87.72,335.49 L88.17,335.47 L88.62,335.46 L89.06,335.44 L89.51,335.42 L89.96,335.41 L90.40,335.39 L90.85,335.38 L91.30,335.36 L91.74,335.35 L92.19,335.33 L92.63,335.32 L93.08,335.31 L93.53,335.29 L93.97,335.28 L94.42,335.27 L94.87,335.25 L95.31,335.24 L95.76,335.23 L96.21,335.22 L96.65,335.21 L97.10,335.20 L97.54,335.19 L97.99,335.18 L98.44,335.17 L98.88,335.16 L99.33,335.15 L99.78,335.14 L100.22,335.13 L100.67,335.12 L101.12,335.11 L101.56,335.10 L102.01,335.09 L102.45,335.09 L102.90,335.08 L103.35,335.07 L103.79,335.06 L104.24,335.05 L104.69,335.05 L105.13,335.04 L105.58,335.03 L106.03,335.02 L106.47,335.02 L106.92,335.01 L107.36,335.00 L107.81,335.00 L108.26,334.99 L108.70,334.98 L109.15,334.98 L109.60,334.97 L110.04,334.96 L110.49,334.95 L110.94,334.95 L111.38,334.94 L111.83,334.93 L112.27,334.93 L112.72,334.92 L113.17,334.91 L113.61,334.91 L114.06,334.90 L114.51,334.89 L114.95,334.89 L115.40,334.88 L115.85,334.87 L116.29,334.86 L116.74,334.86 L117.18,334.85 L117.63,334.84 L118.08,334.83 L118.52,334.83 L118.97,334.82 L119.42,334.81 L119.86,334.80 L120.31,334.79 L120.76,334.79 L121.20,334.78 L121.65,334.77 L122.09,334.76 L122.54,334.75 L122.99,334.75 L123.43,334.74 L123.88,334.73 L124.33,334.72 L124.77,334.71 L125.22,334.71 L125.67,334.70 L126.11,334.69 L126.56,334.68 L127.01,334.68 L127.45,334.67 L127.90,334.66 L128.34,334.65 L128.79,334.64 L129.24,334.64 L129.68,334.63 L130.13,334.62 L130.58,334.61 L131.02,334.61 L131.47,334.60 L131.92,334.59 L132.36,334.58 L132.81,334.57 L133.25,334.57 L133.70,334.56 L134.15,334.55 L134.59,334.54 L135.04,334.53 L135.49,334.53 L135.93,334.52 L136.38,334.51 L136.83,334.50 L137.27,334.49 L137.72,334.48 L138.16,334.47 L138.61,334.47 L139.06,334.46 L139.50,334.45 L139.95,334.44 L140.40,334.43 L140.84,334.42 L141.29,334.41 L141.74,334.40 L142.18,334.39 L142.63,334.38 L143.07,334.37 L143.52,334.36 L143.97,334.35 L144.41,334.34 L144.86,334.33 L145.31,334.32 L145.75,334.31 L146.20,334.30 L146.65,334.29 L147.09,334.28 L147.54,334.27 L147.98,334.25 L148.43,334.24 L148.88,334.23 L149.32,334.22 L149.77,334.21 L150.22,334.19 L150.66,334.18 L151.11,334.17 L151.56,334.16 L152.00,334.14 L152.45,334.13 L152.89,334.12 L153.34,334.10 L153.79,334.09 L154.23,334.08 L154.68,334.06 L155.13,334.05 L155.57,334.03 L156.02,334.02 L156.47,334.00 L156.91,333.99 L157.36,333.97 L157.80,333.95 L158.25,333.94 L158.70,333.92 L159.14,333.90 L159.59,333.88 L160.04,333.86 L160.48,333.84 L160.93,333.82 L161.38,333.80 L161.82,333.78 L162.27,333.76 L162.71,333.73 L163.16,333.71 L163.61,333.68 L164.05,333.66 L164.50,333.63 L164.95,333.60 L165.39,333.57 L165.84,333.54 L166.29,333.50 L166.73,333.46 L167.18,333.42 L167.62,333.38 L168.07,333.33 L168.52,333.27 L168.96,333.22 L169.41,333.16 L169.86,333.11 L170.30,333.05 L170.75,332.98 L171.20,332.92 L171.64,332.85 L172.09,332.79 L172.53,332.72 L172.98,332.64 L173.43,332.56 L173.87,332.47 L174.32,332.38 L174.77,332.29 L175.21,332.19 L175.66,332.09 L176.11,331.98 L176.55,331.87 L177.00,331.76 L177.44,331.65 L177.89,331.53 L178.34,331.41 L178.78,331.28 L179.23,331.15 L179.68,331.02 L180.12,330.88 L180.57,330.74 L181.02,330.59 L181.46,330.43 L181.91,330.27 L182.35,330.10 L182.80,329.92 L183.25,329.73 L183.69,329.54 L184.14,329.34 L184.59,329.12 L185.03,328.89 L185.48,328.64 L185.93,328.38 L186.37,328.10 L186.82,327.81 L187.26,327.50 L187.71,327.19 L188.16,326.86 L188.60,326.51 L189.05,326.16 L189.50,325.78 L189.94,325.37 L190.39,324.94 L190.84,324.48 L191.28,324.00 L191.73,323.50 L192.17,322.99 L192.62,322.46 L193.07,321.92 L193.51,321.36 L193.96,320.78 L194.41,320.18 L194.85,319.55 L195.30,318.90 L195.75,318.22 L196.19,317.51 L196.64,316.77 L197.08,315.99 L197.53,315.16 L197.98,314.30 L198.42,313.39 L198.87,312.43 L199.32,311.43 L199.76,310.36 L200.21,309.19 L200.66,307.94 L201.10,306.64 L201.55,305.32 L201.99,304.02 L202.44,302.69 L202.89,301.32 L203.33,299.94 L203.78,298.57 L204.23,297.26 L204.67,296.03 L205.12,294.79 L205.57,293.59 L206.01,292.50 L206.46,291.58 L206.90,290.78 L207.35,290.04 L207.80,289.42 L208.24,289.03 L208.69,288.82 L209.14,288.66 L209.58,288.60 L210.03,288.73 L210.48,289.07 L210.92,289.52 L211.37,290.10 L211.81,290.95 L212.26,291.91 L212.71,292.96 L213.15,294.17 L213.60,295.50" fill="none" stroke="#a0304f" stroke-width="0.9"/>
<line x1="169.5" y1="215.2" x2="169.5" y2="337.6" stroke="#222" stroke-width="0.8" stroke-dasharray="2,1.4"/>
<rect x="35.5" y="215.2" width="178.1" height="122.4" fill="none" stroke="#333" stroke-width="0.9"/>
<rect x="42.3" y="224.3" width="56.6" height="21.2" fill="#fff" stroke="#e2e2e2" stroke-width="0.6" rx="1.2"/>
<rect x="46.1" y="228.4" width="8.7" height="2" fill="#c7d6ec" stroke="#6a90cc" stroke-width="0.6"/>
<rect x="46.1" y="239" width="8.7" height="2" fill="#ebd0d8" stroke="#b05a75" stroke-width="0.6"/>
<text x="56.3" y="232" font-size="8.5" fill="#111" letter-spacing="0.72" stroke="#111" stroke-width="0.16">global</text>
<text x="56.3" y="241.4" font-size="8.5" fill="#111" letter-spacing="0.84" stroke="#111" stroke-width="0.16">phospho</text>
<text x="37.9" y="349.1" font-size="10.8" fill="#111" text-anchor="middle" stroke="#111" stroke-width="0.16">-1.00</text>
<text x="79" y="349.1" font-size="10.8" fill="#111" text-anchor="middle" stroke="#111" stroke-width="0.16">-0.50</text>
<text x="123.8" y="349.1" font-size="10.8" fill="#111" text-anchor="middle" stroke="#111" stroke-width="0.16">0.00</text>
<text x="166.7" y="349.1" font-size="10.8" fill="#111" text-anchor="middle" stroke="#111" stroke-width="0.16">0.50</text>
<text x="210.2" y="349.1" font-size="10.8" fill="#111" text-anchor="middle" stroke="#111" stroke-width="0.16">1.00</text>
<text x="125.4" y="363.8" font-size="12.3" fill="#111" text-anchor="middle" stroke="#111" stroke-width="0.16">Correlation Distribution</text>
<text transform="translate(26.4,300.6) rotate(-90)" font-size="14.2" fill="#111" stroke="#111" stroke-width="0.16">Density</text>
<text x="256" y="206.5" font-size="20.5" fill="#000" font-weight="bold">D</text>
<text x="299.4" y="206.8" font-size="13.9" fill="#111" stroke="#111" stroke-width="0.16">Peak Identification: <tspan fill="#3c84cc" stroke="#3c84cc" stroke-width="0.16">gSEC</tspan></text>
<text x="478.6" y="206.8" font-size="13.9" fill="#111" stroke="#111" stroke-width="0.16">Peak Identification: <tspan fill="#a03050" stroke="#a03050" stroke-width="0.16">phSEC</tspan></text>
<path d="M375,290.9 L375.00,230.25 A60.6,60.6 0 0 1 409.06,240.73 Z" fill="#2a9d78" stroke="#2a2a2a" stroke-width="0.65" stroke-linejoin="round"/>
<path d="M375,290.9 L409.06,240.73 A60.6,60.6 0 0 1 434.53,279.49 Z" fill="#7773bc" stroke="#2a2a2a" stroke-width="0.65" stroke-linejoin="round"/>
<path d="M375,290.9 L434.53,279.49 A60.6,60.6 0 1 1 375.00,230.25 Z" fill="#9291a2" stroke="#2a2a2a" stroke-width="0.65" stroke-linejoin="round"/>
<path d="M566.1,291.7 L566.15,230.30 A62.5,61.4 0 0 1 612.51,250.52 Z" fill="#2a9d78" stroke="#2a2a2a" stroke-width="0.65" stroke-linejoin="round"/>
<path d="M566.1,291.7 L612.51,250.52 A62.5,61.4 0 0 1 622.36,318.54 Z" fill="#7773bc" stroke="#2a2a2a" stroke-width="0.65" stroke-linejoin="round"/>
<path d="M566.1,291.7 L622.36,318.54 A62.5,61.4 0 1 1 566.15,230.30 Z" fill="#9291a2" stroke="#2a2a2a" stroke-width="0.65" stroke-linejoin="round"/>
<text x="377.6" y="246.6" font-size="10.5" fill="#111" stroke="#111" stroke-width="0.16">HEK</text>
<text x="377.6" y="258" font-size="10.5" fill="#111" stroke="#111" stroke-width="0.16">9.5%</text>
<text x="399.8" y="269.7" font-size="10.5" fill="#111" stroke="#111" stroke-width="0.16">HCT</text>
<text x="399.8" y="280.9" font-size="10.5" fill="#111" stroke="#111" stroke-width="0.16">12.5%</text>
<text x="334.7" y="291.9" font-size="10.5" fill="#fff" stroke="#fff" stroke-width="0.16">Both</text>
<text x="334.7" y="302.6" font-size="10.5" fill="#fff" stroke="#fff" stroke-width="0.16">78.0%</text>
<text x="570.4" y="248.8" font-size="10.5" fill="#111" stroke="#111" stroke-width="0.16">HEK</text>
<text x="570.4" y="260.2" font-size="10.5" fill="#111" stroke="#111" stroke-width="0.16">13.3%</text>
<text x="591.6" y="282.5" font-size="10.5" fill="#111" stroke="#111" stroke-width="0.16">HCT</text>
<text x="591.6" y="293.8" font-size="10.5" fill="#111" stroke="#111" stroke-width="0.16">18.9%</text>
<text x="520.8" y="291.2" font-size="10.5" fill="#fff" stroke="#fff" stroke-width="0.16">Both</text>
<text x="520.8" y="302.6" font-size="10.5" fill="#fff" stroke="#fff" stroke-width="0.16">67.8%</text>
<text x="0" y="396.8" font-size="21.6" fill="#000" font-weight="bold">E</text>
<text x="124.9" y="392.2" font-size="13.4" fill="#111" text-anchor="middle" stroke="#111" stroke-width="0.16">CDC37</text>
<rect x="167" y="402.2" width="43.2" height="123.3" fill="#e3e3e3"/>
<path d="M39.8,518.2 C40.6,517.4 42.9,514.6 44.8,513.2 C46.7,511.8 49.3,510.5 51.3,510 C53.3,509.5 55,510.1 56.8,510.3 C58.6,510.5 60.5,510.8 62.3,511.1 C64.1,511.4 66,511.9 67.8,512.2 C69.6,512.6 71.2,513 73.2,513.2 C75.2,513.4 77.8,513.5 79.8,513.2 C81.8,512.9 83.1,511.8 85.3,511.4 C87.5,510.9 90.9,510.8 92.9,510.5 C94.9,510.2 96.1,510.3 97.3,509.4 C98.5,508.5 99.4,507 100.1,505 C100.8,503 101.1,500.5 101.7,497.4 C102.3,494.3 103.2,490 103.9,486.4 C104.6,482.8 105.3,480.5 106.1,475.5 C106.8,470.5 107.7,464.2 108.4,456.3 C109.1,448.4 109.9,435.2 110.5,428.1 C111.1,421.1 111.4,417.2 112,414 C112.6,410.8 113.4,410.2 114,409 C114.6,407.8 115.2,406.9 115.8,407 C116.4,407.1 116.9,408.4 117.5,409.8 C118.1,411.2 118.6,412.9 119.2,415.5 C119.8,418.1 120.3,421.1 121,425.3 C121.7,429.5 122.4,435.9 123.1,440.8 C123.8,445.7 124.5,450.7 125.2,454.9 C126,459.1 126.8,463.5 127.6,466.1 C128.4,468.7 129.2,470 130.2,470.3 C131.2,470.6 132.5,469 133.7,468.2 C134.9,467.4 135.9,465.9 137.2,465.4 C138.5,464.9 140.1,465 141.4,465.4 C142.7,465.8 143.8,466.4 145,467.5 C146.2,468.6 147.2,469.3 148.5,471.8 C149.8,474.3 151.4,479.6 152.8,482.4 C154.2,485.2 155.3,486.8 157,488.7 C158.7,490.6 160.8,491.6 162.7,493.6 C164.6,495.6 166.4,498.5 168.3,500.6 C170.2,502.7 172,505.1 173.9,506.3 C175.8,507.5 177.6,507.4 179.5,507.7 C181.4,508 183.1,507.8 185.2,508 C187.3,508.2 190.3,509.1 192.2,509.1 C194.1,509.1 194.9,508.4 196.4,508 C197.9,507.6 200,506.8 201.4,507 C202.8,507.2 203.7,508.2 204.9,509.1 C206.1,510 207.8,512 208.4,512.6" fill="none" stroke="#a98bc6" stroke-width="3.0" stroke-linejoin="round" stroke-linecap="round"/>
<path d="M39.8,519.3 C40.6,518.6 43.1,516 44.8,514.9 C46.5,513.8 48.4,512.8 50.2,512.5 C52,512.2 53.9,513.1 55.7,513.2 C57.5,513.3 59.4,513.6 61.2,513.2 C63,512.8 65.1,511.3 66.7,510.7 C68.3,510.1 69.5,509.4 71,509.4 C72.5,509.4 73.9,510.1 75.4,510.5 C76.9,510.9 78.2,511.6 79.8,511.9 C81.4,512.2 83.5,512.2 85.3,512.2 C87.1,512.2 88.7,511.9 90.7,511.8 C92.7,511.7 95.3,511.8 97.3,511.4 C99.3,511 101.1,510.5 102.8,509.4 C104.5,508.3 105.8,507.2 107.2,505 C108.6,502.8 109.7,499.1 111,496.3 C112.3,493.6 113.5,491.4 115,488.5 C116.5,485.6 118.5,481.2 120.3,478.8 C122.1,476.4 124.1,475.3 126,473.9 C127.9,472.5 130,471.6 131.6,470.3 C133.2,469 134.4,468 135.8,466.1 C137.2,464.2 138.7,461.1 140,459.1 C141.3,457.1 142.3,455.2 143.5,454.2 C144.7,453.1 145.9,452.4 147.1,452.8 C148.3,453.2 149.3,453.7 150.7,456.3 C152.1,458.9 153.8,464.4 155.6,468.3 C157.4,472.2 159.4,475.8 161.3,479.5 C163.2,483.2 165,487.5 166.9,490.8 C168.8,494.1 170.6,497.1 172.5,499.2 C174.4,501.3 176,502.4 178.1,503.5 C180.2,504.6 182.8,504.9 185.2,505.6 C187.5,506.3 190.1,507 192.2,507.7 C194.3,508.4 196.2,509.3 197.8,509.8 C199.5,510.3 200.9,510.2 202.1,510.8 C203.3,511.4 204,512.4 204.9,513.3 C205.8,514.2 207.2,515.6 207.7,516.1" fill="none" stroke="#6dbb72" stroke-width="3.0" stroke-linejoin="round" stroke-linecap="round"/>
<line x1="37.8" y1="402.2" x2="37.8" y2="525.6" stroke="#555" stroke-width="0.9"/>
<line x1="37.4" y1="525.5" x2="210.3" y2="525.5" stroke="#555" stroke-width="0.9"/>
<path d="M37.80,525.5 v1.3 M41.05,525.5 v1.3 M44.30,525.5 v1.3 M47.55,525.5 v1.3 M50.80,525.5 v1.3 M54.05,525.5 v1.3 M57.30,525.5 v1.3 M60.55,525.5 v1.3 M63.80,525.5 v1.3 M67.05,525.5 v1.3 M70.30,525.5 v1.3 M73.55,525.5 v1.3 M76.80,525.5 v1.3 M80.05,525.5 v1.3 M83.30,525.5 v1.3 M86.55,525.5 v1.3 M89.80,525.5 v1.3 M93.05,525.5 v1.3 M96.30,525.5 v1.3 M99.55,525.5 v1.3 M102.80,525.5 v1.3 M106.05,525.5 v1.3 M109.30,525.5 v1.3 M112.55,525.5 v1.3 M115.80,525.5 v1.3 M119.05,525.5 v1.3 M122.30,525.5 v1.3 M125.55,525.5 v1.3 M128.80,525.5 v1.3 M132.05,525.5 v1.3 M135.30,525.5 v1.3 M138.55,525.5 v1.3 M141.80,525.5 v1.3 M145.05,525.5 v1.3 M148.30,525.5 v1.3 M151.55,525.5 v1.3 M154.80,525.5 v1.3 M158.05,525.5 v1.3 M161.30,525.5 v1.3 M164.55,525.5 v1.3 M167.80,525.5 v1.3 M171.05,525.5 v1.3 M174.30,525.5 v1.3 M177.55,525.5 v1.3 M180.80,525.5 v1.3 M184.05,525.5 v1.3 M187.30,525.5 v1.3 M190.55,525.5 v1.3 M193.80,525.5 v1.3 M197.05,525.5 v1.3 M200.30,525.5 v1.3 M203.55,525.5 v1.3 M206.80,525.5 v1.3 M210.05,525.5 v1.3 " stroke="#777" stroke-width="0.5"/>
<line x1="35.8" y1="425.94" x2="37.8" y2="425.94" stroke="#555" stroke-width="0.7"/>
<text x="34" y="429.6" font-size="10.4" fill="#111" text-anchor="end" stroke="#111" stroke-width="0.16">900</text>
<line x1="35.8" y1="457.26" x2="37.8" y2="457.26" stroke="#555" stroke-width="0.7"/>
<text x="34" y="461" font-size="10.4" fill="#111" text-anchor="end" stroke="#111" stroke-width="0.16">600</text>
<line x1="35.8" y1="488.58" x2="37.8" y2="488.58" stroke="#555" stroke-width="0.7"/>
<text x="34" y="492.3" font-size="10.4" fill="#111" text-anchor="end" stroke="#111" stroke-width="0.16">300</text>
<line x1="35.8" y1="519.90" x2="37.8" y2="519.90" stroke="#555" stroke-width="0.7"/>
<text x="34" y="523.6" font-size="10.4" fill="#111" text-anchor="end" stroke="#111" stroke-width="0.16">0</text>
<text x="43.7" y="421.7" font-size="13.4" fill="#3c84cc" stroke="#3c84cc" stroke-width="0.16">gSEC</text>
<text transform="translate(9.8,506) rotate(-90)" font-size="13" fill="#111" stroke="#111" stroke-width="0.16">Intensity (x10<tspan font-size="7.8" dy="-5.2">4</tspan><tspan dy="5.2">)</tspan></text>
<text x="36" y="540.9" font-size="12.9" fill="#111" stroke="#111" stroke-width="0.16">High MW</text>
<text x="211.5" y="542.3" font-size="12.9" fill="#111" text-anchor="end" stroke="#111" stroke-width="0.16">Low MW</text>
<line x1="54.3" y1="564" x2="66.1" y2="564" stroke="#6dbb72" stroke-width="1.6"/>
<text x="67" y="567.7" font-size="10.8" fill="#111" stroke="#111" stroke-width="0.16">HEK293</text>
<line x1="143.7" y1="564" x2="156.2" y2="564" stroke="#a98bc6" stroke-width="1.6"/>
<text x="156.4" y="567.7" font-size="10.8" fill="#111" stroke="#111" stroke-width="0.16">HCT116</text>
<text x="255.6" y="396.7" font-size="21.6" fill="#000" font-weight="bold">F</text>
<text x="459.8" y="390.9" font-size="13.7" fill="#111" text-anchor="middle" stroke="#111" stroke-width="0.16">CDC37-HSP90 Complex</text>
<text transform="translate(265.5,521) rotate(-90)" font-size="12.75" fill="#111" stroke="#111" stroke-width="0.16">Normalized Intensity</text>
<path d="M285.7,524.3 C286.8,523.3 289.8,519.4 292.5,518.6 C295.2,517.8 297.9,519.3 301.7,519.3 C305.5,519.3 310.8,518.5 315.4,518.6 C320,518.7 324.9,519.7 329.1,519.8 C333.3,519.9 337.8,520.1 340.5,519.3 C343.2,518.5 343.8,518.5 345.1,515.2 C346.4,511.8 347.4,508.7 348.5,499.2 C349.6,489.7 350.9,471.3 352,458 C353.1,444.7 354.6,427.1 355.4,419.2 C356.2,411.3 356.5,412 357,410.4 C357.5,408.8 358,409.6 358.6,409.6 C359.1,409.6 359.7,409.4 360.3,410.2 C360.9,411 361.7,412.7 362.3,414.6 C362.9,416.5 362.9,417.3 363.7,421.5 C364.5,425.7 366,433.7 367.1,439.8 C368.2,445.9 369.2,452.3 370.5,458 C371.8,463.7 373.4,469.2 375.1,474 C376.8,478.8 378.7,482.4 380.8,486.6 C382.9,490.8 385.4,495.6 387.7,499.2 C390,502.8 391.8,505.8 394.5,508.3 C397.2,510.8 400.3,512.5 403.7,514 C407.1,515.5 411.3,516.2 415.1,517 C418.9,517.8 423.4,518.5 426.5,518.6 C429.6,518.7 431.3,517.9 433.4,517.5 C435.5,517.1 437.4,515.5 439.1,516.3 C440.8,517 442.9,521 443.7,522" fill="none" stroke="#e8a6be" stroke-width="3.2" stroke-linejoin="round" stroke-linecap="round" opacity="1"/>
<path d="M286.3,523.4 C287.4,522.5 290.4,518.5 293.1,517.7 C295.8,516.9 298.5,518.4 302.3,518.4 C306.1,518.4 311.4,517.6 316,517.7 C320.6,517.8 325.5,518.8 329.7,518.9 C333.9,519 338.4,519.2 341.1,518.4 C343.8,517.6 344.4,517.6 345.7,514.3 C347,510.9 348,507.8 349.1,498.3 C350.2,488.8 351.5,470.4 352.6,457.1 C353.8,443.8 355.2,426.2 356,418.3 C356.8,410.4 357.1,411.1 357.6,409.5 C358.1,407.9 358.6,408.7 359.2,408.7 C359.8,408.7 360.3,408.5 360.9,409.3 C361.5,410.1 362.3,411.8 362.9,413.7 C363.5,415.6 363.5,416.4 364.3,420.6 C365.1,424.8 366.6,432.8 367.7,438.9 C368.8,445 369.8,451.4 371.1,457.1 C372.4,462.8 374,468.3 375.7,473.1 C377.4,477.9 379.3,481.5 381.4,485.7 C383.5,489.9 386,494.7 388.3,498.3 C390.6,501.9 392.4,504.9 395.1,507.4 C397.8,509.9 400.9,511.7 404.3,513.1 C407.7,514.6 411.9,515.3 415.7,516.1 C419.5,516.9 424.1,517.6 427.1,517.7 C430.2,517.8 431.9,517 434,516.6 C436.1,516.2 438,514.6 439.7,515.4 C441.4,516.1 443.5,520.1 444.3,521.1" fill="none" stroke="#b89ccc" stroke-width="3.2" stroke-linejoin="round" stroke-linecap="round" opacity="0.9"/>
<path d="M286.3,522.3 C287.2,520.8 290.1,515.1 292,513.1 C293.9,511.1 295.6,510.4 297.7,510.2 C299.8,510 302.5,512.5 304.6,512 C306.7,511.5 308.4,508.6 310.3,507.4 C312.2,506.2 314.1,504.8 316,504.7 C317.9,504.6 319.6,505.9 321.7,507 C323.8,508.1 326.5,510.9 328.6,511.5 C330.7,512.1 332.2,511 334.3,510.9 C336.4,510.8 339.2,511.2 341.1,510.6 C343,510 344.2,509.8 345.7,507.4 C347.2,505 348.8,500.2 350.3,496 C351.8,491.8 353.5,486.5 354.9,482.3 C356.3,478.1 357,475.8 358.6,470.9 C360.2,465.9 362.4,457.2 364.3,452.6 C366.2,448 368.1,446.3 370,443.4 C371.9,440.5 374,438.8 375.7,435.4 C377.4,432 378.8,427.1 380.3,422.9 C381.8,418.7 383.8,412.6 384.9,410.3 C385.9,408 386,409.2 386.6,409 C387.2,408.8 387.5,407.6 388.3,409.1 C389.1,410.7 390.4,414.1 391.7,418.3 C393,422.5 394.6,428.6 396.3,434.3 C398,440 400.1,445.8 402,452.6 C403.9,459.5 405.8,468.9 407.7,475.4 C409.6,481.9 411.5,487.6 413.4,491.4 C415.3,495.2 416.8,496.6 419.1,498.3 C421.4,500 424.6,500.6 427.1,501.7 C429.6,502.8 431.9,504.2 434,505.1 C436.1,506.1 438,505.5 439.7,507.4 C441.4,509.3 443.5,515.1 444.3,516.6" fill="none" stroke="#efc27a" stroke-width="3.2" stroke-linejoin="round" stroke-linecap="round" opacity="0.88"/>
<path d="M286.3,523.4 C287.6,522.3 292,517 294.3,516.6 C296.6,516.2 297.9,520 300,521.1 C302.1,522.2 303.1,523 306.9,523.4 C310.7,523.8 317.9,523.5 322.9,523.4 C327.8,523.3 333.4,523.4 336.6,523 C339.8,522.6 340.4,522.2 342.3,521.1 C344.2,520 346.3,518.7 348,516.6 C349.7,514.5 351.1,511.5 352.6,508.6 C354.1,505.7 355.8,501.2 357.1,499.4 C358.4,497.5 359.1,497.4 360.2,497.5 C361.3,497.6 362.4,498.3 364,499.8 C365.6,501.3 367.9,504.8 370,506.3 C372.1,507.8 374.6,508.4 376.9,508.6 C379.2,508.8 381.4,508.2 383.7,507.4 C386,506.6 388.5,505.5 390.6,504 C392.7,502.5 394.8,500.8 396.3,498.3 C397.8,495.8 398.6,496 399.7,489.1 C400.8,482.2 401.8,469.3 403.1,457.1 C404.4,444.9 406.6,423.9 407.7,416 C408.8,408.1 409.2,411.1 410,410 C410.8,408.9 411.4,407.7 412.3,409.1 C413.2,410.5 414.4,413.7 415.7,418.3 C417,422.9 418.6,430.5 420.3,436.6 C422,442.7 424.1,449.2 426,454.9 C427.9,460.6 429.8,465.9 431.7,470.9 C433.6,475.8 435.7,480.4 437.4,484.6 C439.1,488.8 440.7,492.6 442,496 C443.3,499.4 444.8,503.6 445.4,505.1" fill="none" stroke="#eb7fa9" stroke-width="3.2" stroke-linejoin="round" stroke-linecap="round" opacity="1"/>
<line x1="285.3" y1="402.9" x2="285.3" y2="530" stroke="#b5b5b5" stroke-width="0.9"/>
<line x1="285.3" y1="530" x2="447.4" y2="530" stroke="#555" stroke-width="0.8"/>
<path d="M285.30,530 v1.2 M288.30,530 v1.2 M291.30,530 v1.2 M294.31,530 v1.2 M297.31,530 v1.2 M300.31,530 v1.2 M303.31,530 v1.2 M306.31,530 v1.2 M309.31,530 v1.2 M312.32,530 v1.2 M315.32,530 v1.2 M318.32,530 v1.2 M321.32,530 v1.2 M324.32,530 v1.2 M327.33,530 v1.2 M330.33,530 v1.2 M333.33,530 v1.2 M336.33,530 v1.2 M339.33,530 v1.2 M342.34,530 v1.2 M345.34,530 v1.2 M348.34,530 v1.2 M351.34,530 v1.2 M354.34,530 v1.2 M357.34,530 v1.2 M360.35,530 v1.2 M363.35,530 v1.2 M366.35,530 v1.2 M369.35,530 v1.2 M372.35,530 v1.2 M375.36,530 v1.2 M378.36,530 v1.2 M381.36,530 v1.2 M384.36,530 v1.2 M387.36,530 v1.2 M390.36,530 v1.2 M393.37,530 v1.2 M396.37,530 v1.2 M399.37,530 v1.2 M402.37,530 v1.2 M405.37,530 v1.2 M408.38,530 v1.2 M411.38,530 v1.2 M414.38,530 v1.2 M417.38,530 v1.2 M420.38,530 v1.2 M423.39,530 v1.2 M426.39,530 v1.2 M429.39,530 v1.2 M432.39,530 v1.2 M435.39,530 v1.2 M438.39,530 v1.2 M441.40,530 v1.2 M444.40,530 v1.2 M447.40,530 v1.2 " stroke="#888" stroke-width="0.45"/>
<line x1="284.1" y1="408.20" x2="285.3" y2="408.20" stroke="#888" stroke-width="0.5"/>
<line x1="284.1" y1="436.85" x2="285.3" y2="436.85" stroke="#888" stroke-width="0.5"/>
<line x1="284.1" y1="465.50" x2="285.3" y2="465.50" stroke="#888" stroke-width="0.5"/>
<line x1="284.1" y1="494.15" x2="285.3" y2="494.15" stroke="#888" stroke-width="0.5"/>
<line x1="284.1" y1="522.80" x2="285.3" y2="522.80" stroke="#888" stroke-width="0.5"/>
<text x="277.6" y="411.9" font-size="10.6" fill="#111" text-anchor="middle" stroke="#111" stroke-width="0.16">1</text>
<text x="276.7" y="528.5" font-size="11.2" fill="#111" text-anchor="middle" stroke="#111" stroke-width="0.16">0</text>
<text x="291.8" y="421.9" font-size="13.4" fill="#3aa985" stroke="#3aa985" stroke-width="0.16">HEK</text>
<path d="M475.1,524.4 C476,523.6 477.8,520.8 480.4,519.9 C483,519 486.7,518.7 490.7,518.7 C494.7,518.7 499.8,519.6 504.4,519.9 C509,520.2 514.1,520.4 518.1,520.3 C522.1,520.2 525.9,520.2 528.4,519.4 C530.9,518.6 531.8,519.2 533,515.3 C534.2,511.4 535,505.6 535.9,496 C536.8,486.4 537.6,469.7 538.7,458 C539.8,446.3 541.2,433.8 542.4,426 C543.6,418.2 544.8,413.9 545.8,411.3 C546.8,408.7 547.3,408 548.1,410.1 C548.9,412.2 549.8,417 550.8,423.8 C551.8,430.6 553,442.8 554.2,451.2 C555.3,459.6 556.4,469.2 557.7,474.1 C559,479.1 560.5,478.6 562.2,480.9 C563.9,483.2 566,485.1 567.9,487.8 C569.8,490.5 571.7,494 573.6,496.9 C575.5,499.8 577.5,502.6 579.4,504.9 C581.3,507.2 582.6,509.1 585.1,510.6 C587.6,512.1 591.2,512.9 594.2,514 C597.2,515.1 599.9,516.6 603.3,517.4 C606.7,518.2 611.6,518.6 614.7,518.6 C617.8,518.6 619.5,518 621.6,517.4 C623.7,516.8 625.4,514.8 627.3,515.2 C629.2,515.6 632,519 633,519.7" fill="none" stroke="#e8a6be" stroke-width="3.2" stroke-linejoin="round" stroke-linecap="round" opacity="1"/>
<path d="M475.7,523.4 C476.6,522.6 478.4,519.8 481,518.9 C483.6,518 487.3,517.7 491.3,517.7 C495.3,517.7 500.4,518.6 505,518.9 C509.6,519.2 514.7,519.4 518.7,519.3 C522.7,519.2 526.5,519.2 529,518.4 C531.5,517.6 532.4,518.2 533.6,514.3 C534.9,510.4 535.5,504.6 536.5,495 C537.5,485.4 538.2,468.7 539.3,457 C540.4,445.3 541.8,432.8 543,425 C544.2,417.2 545.4,412.9 546.4,410.3 C547.4,407.7 547.9,407 548.7,409.1 C549.5,411.2 550.4,416 551.4,422.8 C552.4,429.6 553.6,441.8 554.8,450.2 C555.9,458.6 557,468.2 558.3,473.1 C559.6,478.1 561.1,477.6 562.8,479.9 C564.5,482.2 566.6,484.1 568.5,486.8 C570.4,489.5 572.3,493 574.2,495.9 C576.1,498.8 578.1,501.6 580,503.9 C581.9,506.2 583.2,508.1 585.7,509.6 C588.2,511.1 591.8,511.9 594.8,513 C597.8,514.1 600.5,515.6 603.9,516.4 C607.3,517.2 612.2,517.6 615.3,517.6 C618.3,517.6 620.1,517 622.2,516.4 C624.3,515.8 626,513.8 627.9,514.2 C629.8,514.6 632.6,518 633.6,518.7" fill="none" stroke="#b89ccc" stroke-width="3.2" stroke-linejoin="round" stroke-linecap="round" opacity="0.9"/>
<path d="M475.7,522.3 C476.6,521.1 479.2,517.1 481,515.4 C482.8,513.7 484.2,512.4 486.7,512 C489.2,511.6 492.8,512.6 495.9,513.1 C498.9,513.6 502.1,514.2 505,514.7 C507.9,515.2 510.3,516.2 513,516.1 C515.7,516 518.3,514.3 521,513.8 C523.7,513.3 527,514 529,513.1 C531,512.2 531.8,512.2 532.9,508.6 C534,505 534.8,500 535.9,491.4 C537,482.8 538.2,468.2 539.3,457.1 C540.4,446.1 541.6,432.9 542.7,425.1 C543.8,417.3 544.9,413 545.7,410.3 C546.5,407.6 546.9,409 547.4,408.8 C547.9,408.6 548.1,407 548.8,409.3 C549.5,411.6 550.4,416.4 551.4,422.8 C552.4,429.2 553.6,440.3 554.8,447.9 C555.9,455.5 557.1,464.5 558.3,468.5 C559.4,472.5 560.6,471.7 561.7,471.9 C562.8,472.1 564,470.4 565.1,469.6 C566.2,468.9 567.2,467.4 568.5,467.4 C569.8,467.4 571.6,467.9 573.1,469.6 C574.6,471.3 576,474.6 577.7,477.6 C579.4,480.7 581.3,484.8 583.4,487.9 C585.5,490.9 587.9,493.2 590.2,495.9 C592.5,498.6 595,501.7 597.1,503.9 C599.2,506.1 600.5,508 602.8,509.1 C605.1,510.2 608.1,510.3 610.8,510.7 C613.5,511.1 616.3,511.5 618.8,511.4 C621.3,511.3 623.7,509.9 625.6,510 C627.5,510.1 628.9,510.8 630.2,511.9 C631.5,513 633,515.6 633.6,516.4" fill="none" stroke="#efc27a" stroke-width="3.2" stroke-linejoin="round" stroke-linecap="round" opacity="0.88"/>
<path d="M475.7,520 C476.4,518.7 478.6,513.7 479.9,512 C481.2,510.3 482.2,508.9 483.3,509.7 C484.4,510.5 485.4,514.5 486.7,516.6 C488,518.7 489,521.2 491.3,522.3 C493.6,523.4 495.8,523.2 500.4,523.4 C505,523.6 514.1,523.7 518.7,523.4 C523.3,523.1 525.4,522.8 527.9,521.8 C530.4,520.8 531.7,519.9 533.6,517.7 C535.5,515.5 537.6,511.5 539.3,508.6 C541,505.8 542.6,502.5 543.9,500.6 C545.2,498.7 546,497.2 547.1,497 C548.2,496.8 548.8,497.2 550.3,499.3 C551.8,501.4 554.1,507.3 556,509.6 C557.9,511.9 559.4,512.7 561.7,513 C564,513.3 567,512 569.7,511.4 C572.4,510.8 575.6,510.6 577.7,509.1 C579.8,507.7 580.9,505.7 582.2,502.7 C583.5,499.7 584.6,497.8 585.7,491.3 C586.9,484.8 587.8,474.9 589.1,463.9 C590.4,452.9 592.5,433.9 593.7,425.1 C594.9,416.3 595.5,413.7 596.2,411 C597,408.3 597.3,408.7 598.2,409.1 C599.1,409.6 600.3,410.3 601.6,413.7 C602.9,417.1 604.5,424.4 606.2,429.7 C607.9,435 609.8,439.2 611.9,445.7 C614,452.2 616.5,462 618.8,468.5 C621.1,475 623.1,479.4 625.6,484.5 C628.1,489.6 632.3,496.8 633.6,499.3" fill="none" stroke="#eb7fa9" stroke-width="3.2" stroke-linejoin="round" stroke-linecap="round" opacity="1"/>
<line x1="474.5" y1="404.2" x2="474.5" y2="528.6" stroke="#555" stroke-width="0.9"/>
<line x1="474.5" y1="528.6" x2="635.3" y2="528.6" stroke="#555" stroke-width="0.8"/>
<path d="M474.50,528.6 v1.2 M477.53,528.6 v1.2 M480.57,528.6 v1.2 M483.60,528.6 v1.2 M486.64,528.6 v1.2 M489.67,528.6 v1.2 M492.70,528.6 v1.2 M495.74,528.6 v1.2 M498.77,528.6 v1.2 M501.81,528.6 v1.2 M504.84,528.6 v1.2 M507.87,528.6 v1.2 M510.91,528.6 v1.2 M513.94,528.6 v1.2 M516.98,528.6 v1.2 M520.01,528.6 v1.2 M523.04,528.6 v1.2 M526.08,528.6 v1.2 M529.11,528.6 v1.2 M532.15,528.6 v1.2 M535.18,528.6 v1.2 M538.21,528.6 v1.2 M541.25,528.6 v1.2 M544.28,528.6 v1.2 M547.32,528.6 v1.2 M550.35,528.6 v1.2 M553.38,528.6 v1.2 M556.42,528.6 v1.2 M559.45,528.6 v1.2 M562.48,528.6 v1.2 M565.52,528.6 v1.2 M568.55,528.6 v1.2 M571.59,528.6 v1.2 M574.62,528.6 v1.2 M577.65,528.6 v1.2 M580.69,528.6 v1.2 M583.72,528.6 v1.2 M586.76,528.6 v1.2 M589.79,528.6 v1.2 M592.82,528.6 v1.2 M595.86,528.6 v1.2 M598.89,528.6 v1.2 M601.93,528.6 v1.2 M604.96,528.6 v1.2 M607.99,528.6 v1.2 M611.03,528.6 v1.2 M614.06,528.6 v1.2 M617.10,528.6 v1.2 M620.13,528.6 v1.2 M623.16,528.6 v1.2 M626.20,528.6 v1.2 M629.23,528.6 v1.2 M632.27,528.6 v1.2 M635.30,528.6 v1.2 " stroke="#888" stroke-width="0.45"/>
<line x1="473.3" y1="408.20" x2="474.5" y2="408.20" stroke="#888" stroke-width="0.5"/>
<line x1="473.3" y1="436.85" x2="474.5" y2="436.85" stroke="#888" stroke-width="0.5"/>
<line x1="473.3" y1="465.50" x2="474.5" y2="465.50" stroke="#888" stroke-width="0.5"/>
<line x1="473.3" y1="494.15" x2="474.5" y2="494.15" stroke="#888" stroke-width="0.5"/>
<line x1="473.3" y1="522.80" x2="474.5" y2="522.80" stroke="#888" stroke-width="0.5"/>
<text x="469.2" y="411.9" font-size="10.6" fill="#111" text-anchor="middle" stroke="#111" stroke-width="0.16">1</text>
<text x="468.1" y="528.5" font-size="11.2" fill="#111" text-anchor="middle" stroke="#111" stroke-width="0.16">0</text>
<text x="482.4" y="421.9" font-size="13.4" fill="#8080c8" stroke="#8080c8" stroke-width="0.16">HCT</text>
<text x="286.6" y="542.6" font-size="12.9" fill="#111" stroke="#111" stroke-width="0.16">High MW</text>
<text x="445.5" y="544.3" font-size="12.9" fill="#111" text-anchor="end" stroke="#111" stroke-width="0.16">Low MW</text>
<text x="473.4" y="543.1" font-size="12.9" fill="#111" stroke="#111" stroke-width="0.16">High MW</text>
<text x="636.9" y="544.6" font-size="12.9" fill="#111" text-anchor="end" stroke="#111" stroke-width="0.16">Low MW</text>
<line x1="316.4" y1="565.2" x2="328" y2="565.2" stroke="#efc27a" stroke-width="1.6"/>
<text x="330.9" y="567.3" font-size="11.1" fill="#111" stroke="#111" stroke-width="0.16">CDC37</text>
<line x1="379" y1="565.2" x2="391" y2="565.2" stroke="#e8a6be" stroke-width="1.6"/>
<text x="394.3" y="567.3" font-size="11.1" fill="#111" stroke="#111" stroke-width="0.16">HSP90AA1</text>
<line x1="463.4" y1="565.2" x2="475.2" y2="565.2" stroke="#b89ccc" stroke-width="1.6"/>
<text x="477.8" y="567.3" font-size="11.1" fill="#111" stroke="#111" stroke-width="0.16">HSP90AB1</text>
<line x1="545.6" y1="565.2" x2="556.6" y2="565.2" stroke="#eb7fa9" stroke-width="1.6"/>
<text x="559.3" y="567.3" font-size="11.1" fill="#111" stroke="#111" stroke-width="0.16">PPP5C</text>
</svg>
</body></html>
